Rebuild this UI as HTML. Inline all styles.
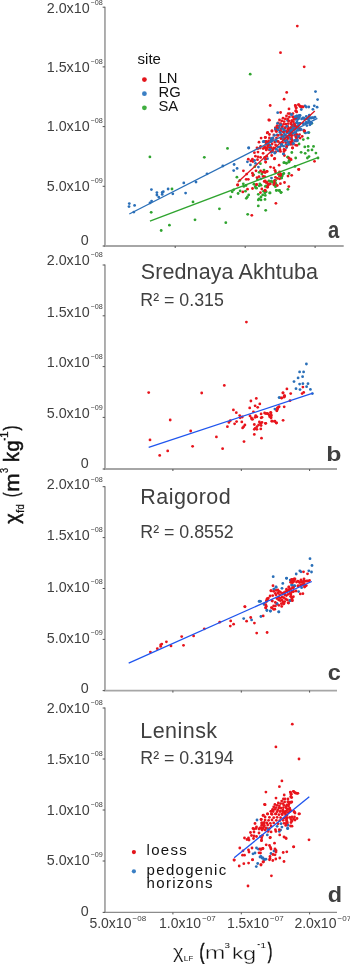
<!DOCTYPE html>
<html><head><meta charset="utf-8"><style>
html,body{margin:0;padding:0;background:#fff;width:350px;height:964px;overflow:hidden}
svg{display:block;font-family:"Liberation Sans",sans-serif;will-change:transform}
</style></head><body>
<svg width="350" height="964" viewBox="0 0 350 964">
<line x1="104.95" y1="6.7" x2="104.95" y2="246.0" stroke="#a6a6a6" stroke-width="1.8"/>
<line x1="103.75" y1="246.0" x2="343.7" y2="246.0" stroke="#a6a6a6" stroke-width="1.8"/>
<line x1="102.65" y1="7.2" x2="104.95" y2="7.2" stroke="#555" stroke-width="1"/>
<line x1="102.65" y1="66.9" x2="104.95" y2="66.9" stroke="#555" stroke-width="1"/>
<line x1="102.65" y1="126.6" x2="104.95" y2="126.6" stroke="#555" stroke-width="1"/>
<line x1="102.65" y1="186.3" x2="104.95" y2="186.3" stroke="#555" stroke-width="1"/>
<line x1="102.65" y1="246.0" x2="104.95" y2="246.0" stroke="#555" stroke-width="1"/>
<line x1="175.2" y1="246.0" x2="175.2" y2="248.0" stroke="#555" stroke-width="1"/>
<line x1="245.2" y1="246.0" x2="245.2" y2="248.0" stroke="#555" stroke-width="1"/>
<line x1="315.1" y1="246.0" x2="315.1" y2="248.0" stroke="#555" stroke-width="1"/>
<text x="89.7" y="12.7" text-anchor="end" font-size="14.3" fill="#404040">2.0x10</text>
<text x="90.5" y="4.8" font-size="7.2" fill="#404040">−08</text>
<text x="89.7" y="71.9" text-anchor="end" font-size="14.3" fill="#404040">1.5x10</text>
<text x="90.5" y="64.0" font-size="7.2" fill="#404040">−08</text>
<text x="89.7" y="130.9" text-anchor="end" font-size="14.3" fill="#404040">1.0x10</text>
<text x="90.5" y="123.0" font-size="7.2" fill="#404040">−08</text>
<text x="89.7" y="190.9" text-anchor="end" font-size="14.3" fill="#404040">5.0x10</text>
<text x="90.5" y="183.0" font-size="7.2" fill="#404040">−09</text>
<text x="88.7" y="244.9" text-anchor="end" font-size="14.3" fill="#404040">0</text>
<line x1="104.95" y1="264.5" x2="104.95" y2="469.0" stroke="#a6a6a6" stroke-width="1.8"/>
<line x1="103.75" y1="469.0" x2="337.0" y2="469.0" stroke="#a6a6a6" stroke-width="1.8"/>
<line x1="102.65" y1="265.0" x2="104.95" y2="265.0" stroke="#555" stroke-width="1"/>
<line x1="102.65" y1="315.8" x2="104.95" y2="315.8" stroke="#555" stroke-width="1"/>
<line x1="102.65" y1="366.6" x2="104.95" y2="366.6" stroke="#555" stroke-width="1"/>
<line x1="102.65" y1="417.4" x2="104.95" y2="417.4" stroke="#555" stroke-width="1"/>
<line x1="102.65" y1="469.0" x2="104.95" y2="469.0" stroke="#555" stroke-width="1"/>
<line x1="172.9" y1="469.0" x2="172.9" y2="471.0" stroke="#555" stroke-width="1"/>
<line x1="241.3" y1="469.0" x2="241.3" y2="471.0" stroke="#555" stroke-width="1"/>
<line x1="309.6" y1="469.0" x2="309.6" y2="471.0" stroke="#555" stroke-width="1"/>
<text x="89.7" y="265.3" text-anchor="end" font-size="14.3" fill="#404040">2.0x10</text>
<text x="90.5" y="257.4" font-size="7.2" fill="#404040">−08</text>
<text x="89.7" y="316.9" text-anchor="end" font-size="14.3" fill="#404040">1.5x10</text>
<text x="90.5" y="309.0" font-size="7.2" fill="#404040">−08</text>
<text x="89.7" y="367.2" text-anchor="end" font-size="14.3" fill="#404040">1.0x10</text>
<text x="90.5" y="359.3" font-size="7.2" fill="#404040">−08</text>
<text x="89.7" y="418.0" text-anchor="end" font-size="14.3" fill="#404040">5.0x10</text>
<text x="90.5" y="410.1" font-size="7.2" fill="#404040">−09</text>
<text x="88.7" y="468.3" text-anchor="end" font-size="14.3" fill="#404040">0</text>
<line x1="104.95" y1="486.2" x2="104.95" y2="690.6" stroke="#a6a6a6" stroke-width="1.8"/>
<line x1="103.75" y1="690.6" x2="337.0" y2="690.6" stroke="#a6a6a6" stroke-width="1.8"/>
<line x1="102.65" y1="486.7" x2="104.95" y2="486.7" stroke="#555" stroke-width="1"/>
<line x1="102.65" y1="537.6" x2="104.95" y2="537.6" stroke="#555" stroke-width="1"/>
<line x1="102.65" y1="588.5" x2="104.95" y2="588.5" stroke="#555" stroke-width="1"/>
<line x1="102.65" y1="639.4" x2="104.95" y2="639.4" stroke="#555" stroke-width="1"/>
<line x1="102.65" y1="690.6" x2="104.95" y2="690.6" stroke="#555" stroke-width="1"/>
<line x1="172.9" y1="690.6" x2="172.9" y2="692.6" stroke="#555" stroke-width="1"/>
<line x1="241.3" y1="690.6" x2="241.3" y2="692.6" stroke="#555" stroke-width="1"/>
<line x1="309.6" y1="690.6" x2="309.6" y2="692.6" stroke="#555" stroke-width="1"/>
<text x="89.7" y="489.4" text-anchor="end" font-size="14.3" fill="#404040">2.0x10</text>
<text x="90.5" y="481.5" font-size="7.2" fill="#404040">−08</text>
<text x="89.7" y="540.2" text-anchor="end" font-size="14.3" fill="#404040">1.5x10</text>
<text x="90.5" y="532.3" font-size="7.2" fill="#404040">−08</text>
<text x="89.7" y="591.8" text-anchor="end" font-size="14.3" fill="#404040">1.0x10</text>
<text x="90.5" y="583.9" font-size="7.2" fill="#404040">−08</text>
<text x="89.7" y="642.6" text-anchor="end" font-size="14.3" fill="#404040">5.0x10</text>
<text x="90.5" y="634.7" font-size="7.2" fill="#404040">−09</text>
<text x="88.7" y="692.9" text-anchor="end" font-size="14.3" fill="#404040">0</text>
<line x1="104.95" y1="707.5" x2="104.95" y2="912.4" stroke="#a6a6a6" stroke-width="1.8"/>
<line x1="103.75" y1="912.4" x2="337.0" y2="912.4" stroke="#8c8c8c" stroke-width="1.4"/>
<line x1="102.65" y1="708.0" x2="104.95" y2="708.0" stroke="#555" stroke-width="1"/>
<line x1="102.65" y1="759.0" x2="104.95" y2="759.0" stroke="#555" stroke-width="1"/>
<line x1="102.65" y1="810.0" x2="104.95" y2="810.0" stroke="#555" stroke-width="1"/>
<line x1="102.65" y1="861.0" x2="104.95" y2="861.0" stroke="#555" stroke-width="1"/>
<line x1="102.65" y1="912.4" x2="104.95" y2="912.4" stroke="#555" stroke-width="1"/>
<line x1="172.9" y1="912.4" x2="172.9" y2="914.4" stroke="#555" stroke-width="1"/>
<line x1="241.3" y1="912.4" x2="241.3" y2="914.4" stroke="#555" stroke-width="1"/>
<line x1="309.6" y1="912.4" x2="309.6" y2="914.4" stroke="#555" stroke-width="1"/>
<text x="89.7" y="713.3" text-anchor="end" font-size="14.3" fill="#404040">2.0x10</text>
<text x="90.5" y="705.4" font-size="7.2" fill="#404040">−08</text>
<text x="89.7" y="763.9" text-anchor="end" font-size="14.3" fill="#404040">1.5x10</text>
<text x="90.5" y="756.0" font-size="7.2" fill="#404040">−08</text>
<text x="89.7" y="814.9" text-anchor="end" font-size="14.3" fill="#404040">1.0x10</text>
<text x="90.5" y="807.0" font-size="7.2" fill="#404040">−08</text>
<text x="89.7" y="865.3" text-anchor="end" font-size="14.3" fill="#404040">5.0x10</text>
<text x="90.5" y="857.4" font-size="7.2" fill="#404040">−09</text>
<text x="88.7" y="916.1" text-anchor="end" font-size="14.3" fill="#404040">0</text>
<text x="89.4" y="928.4" font-size="14" fill="#404040">5.0x10</text>
<text x="132.60000000000002" y="920.6" font-size="8" fill="#404040">−08</text>
<text x="159.0" y="928.4" font-size="14" fill="#404040">1.0x10</text>
<text x="202.2" y="920.6" font-size="8" fill="#404040">−07</text>
<text x="226.9" y="928.4" font-size="14" fill="#404040">1.5x10</text>
<text x="270.1" y="920.6" font-size="8" fill="#404040">−07</text>
<text x="294.4" y="928.4" font-size="14" fill="#404040">2.0x10</text>
<text x="337.59999999999997" y="920.6" font-size="8" fill="#404040">−07</text>
<text x="140.8" y="278.6" font-size="21.5" letter-spacing="0.1" fill="#404040">Srednaya Akhtuba</text><text x="140.3" y="306.1" font-size="17.8" fill="#404040">R² = 0.315</text>
<text x="140.3" y="503.5" font-size="21.5" letter-spacing="0.45" fill="#404040">Raigorod</text><text x="140.3" y="537.6" font-size="17.8" fill="#404040">R² = 0.8552</text>
<text x="140.3" y="738.0" font-size="21.5" letter-spacing="0.45" fill="#404040">Leninsk</text><text x="140.3" y="763.6" font-size="17.8" fill="#404040">R² = 0.3194</text>
<text x="137.6" y="64.2" font-size="15" fill="#111">site</text>
<circle cx="144.4" cy="79.6" r="2.4" fill="#e3141b"/>
<text x="158.5" y="83.1" font-size="14.8" fill="#111">LN</text>
<circle cx="144.4" cy="93.7" r="2.4" fill="#3a7fc4"/>
<text x="158.5" y="97.2" font-size="14.8" fill="#111">RG</text>
<circle cx="144.4" cy="107.8" r="2.4" fill="#3fae3f"/>
<text x="158.5" y="111.3" font-size="14.8" fill="#111">SA</text>
<circle cx="133.9" cy="852.1" r="2.1" fill="#e3141b"/>
<circle cx="133.9" cy="871.3" r="2.1" fill="#3a7fc4"/>
<text x="146.6" y="854.6" font-size="15" letter-spacing="1.3" fill="#111">loess</text>
<text x="146.6" y="875.1" font-size="15" letter-spacing="1.3" fill="#111">pedogenic</text>
<text x="146.6" y="887.5" font-size="15" letter-spacing="1.3" fill="#111">horizons</text>
<text transform="translate(172.90,958.00) scale(0.2000,0.1907)" font-size="100" fill="#111" stroke="#fff" stroke-width="1.2">χ</text>
<text transform="translate(183.63,961.40) scale(0.0841,0.0696)" font-size="100" fill="#111">L</text>
<text transform="translate(188.48,961.40) scale(0.0776,0.0696)" font-size="100" fill="#111">F</text>
<text transform="translate(199.40,958.61) scale(0.1500,0.2138)" font-size="100" fill="#111" stroke="#111" stroke-width="3">(</text>
<text transform="translate(204.86,959.20) scale(0.2486,0.1796)" font-size="100" fill="#111" stroke="#fff" stroke-width="2.0">m</text>
<text transform="translate(224.61,947.84) scale(0.0979,0.0648)" font-size="100" fill="#111">3</text>
<text transform="translate(232.02,959.30) scale(0.2256,0.1712)" font-size="100" fill="#111" stroke="#fff" stroke-width="1.8">k</text>
<text transform="translate(242.95,959.93) scale(0.2378,0.1892)" font-size="100" fill="#111" stroke="#fff" stroke-width="1.8">g</text>
<text transform="translate(257.36,948.27) scale(0.0840,0.1250)" font-size="100" fill="#111">-</text>
<text transform="translate(260.62,947.60) scale(0.0977,0.0768)" font-size="100" fill="#111">1</text>
<text transform="translate(267.77,958.13) scale(0.1346,0.2128)" font-size="100" fill="#111" stroke="#111" stroke-width="3">)</text>
<g transform="translate(0,523.6) rotate(-90)"><text transform="translate(-0.20,18.68) scale(0.1980,0.2107)" font-size="100" fill="#111" stroke="#111" stroke-width="2.5">χ</text><text transform="translate(10.58,23.51) scale(0.1185,0.1111)" font-size="100" fill="#111" stroke="#111" stroke-width="2.5">f</text><text transform="translate(14.13,23.59) scale(0.0933,0.1081)" font-size="100" fill="#111" stroke="#111" stroke-width="2.5">d</text><text transform="translate(26.72,18.39) scale(0.1308,0.2053)" font-size="100" fill="#111" stroke="#111" stroke-width="2.5">(</text><text transform="translate(31.96,18.90) scale(0.2200,0.2000)" font-size="100" fill="#111" stroke="#111" stroke-width="2.5">m</text><text transform="translate(50.53,7.60) scale(0.0915,0.1000)" font-size="100" fill="#111" stroke="#111" stroke-width="2.5">3</text><text transform="translate(61.50,18.90) scale(0.2000,0.2123)" font-size="100" fill="#111" stroke="#111" stroke-width="2.5">k</text><text transform="translate(72.01,18.84) scale(0.1978,0.2027)" font-size="100" fill="#111" stroke="#111" stroke-width="2.5">g</text><text transform="translate(83.18,8.65) scale(0.0800,0.1500)" font-size="100" fill="#111" stroke="#111" stroke-width="2.5">-</text><text transform="translate(85.55,8.10) scale(0.1186,0.1087)" font-size="100" fill="#111" stroke="#111" stroke-width="2.5">1</text><text transform="translate(93.15,18.39) scale(0.1500,0.2053)" font-size="100" fill="#111" stroke="#111" stroke-width="2.5">)</text></g>
<text transform="translate(327.99,238.37) scale(0.2019,0.2309)" font-size="100" font-weight="bold" fill="#404040">a</text>
<text transform="translate(326.16,461.20) scale(0.2480,0.2055)" font-size="100" font-weight="bold" fill="#404040">b</text>
<text transform="translate(327.86,680.48) scale(0.2347,0.2182)" font-size="100" font-weight="bold" fill="#404040">c</text>
<text transform="translate(327.86,902.20) scale(0.2340,0.2137)" font-size="100" font-weight="bold" fill="#404040">d</text>
<circle cx="306.4" cy="364.0" r="1.4" fill="#2a6fb8"/>
<circle cx="299.6" cy="371.9" r="1.4" fill="#2a6fb8"/>
<circle cx="303.6" cy="371.9" r="1.4" fill="#2a6fb8"/>
<circle cx="298.1" cy="377.9" r="1.4" fill="#2a6fb8"/>
<circle cx="302.6" cy="376.7" r="1.4" fill="#2a6fb8"/>
<circle cx="294.0" cy="381.6" r="1.4" fill="#2a6fb8"/>
<circle cx="299.6" cy="384.1" r="1.4" fill="#2a6fb8"/>
<circle cx="302.9" cy="383.7" r="1.4" fill="#2a6fb8"/>
<circle cx="308.0" cy="383.7" r="1.4" fill="#2a6fb8"/>
<circle cx="306.6" cy="386.7" r="1.4" fill="#2a6fb8"/>
<circle cx="296.0" cy="388.7" r="1.4" fill="#2a6fb8"/>
<circle cx="300.0" cy="389.6" r="1.4" fill="#2a6fb8"/>
<circle cx="310.4" cy="389.4" r="1.4" fill="#2a6fb8"/>
<circle cx="312.4" cy="393.6" r="1.4" fill="#2a6fb8"/>
<circle cx="279.7" cy="397.6" r="1.4" fill="#2a6fb8"/>
<circle cx="274.9" cy="409.1" r="1.4" fill="#2a6fb8"/>
<circle cx="279.1" cy="397.6" r="1.4" fill="#2a6fb8"/>
<circle cx="148.7" cy="392.6" r="1.4" fill="#e8141c"/>
<circle cx="201.7" cy="393.0" r="1.4" fill="#e8141c"/>
<circle cx="170.2" cy="420.0" r="1.4" fill="#e8141c"/>
<circle cx="190.7" cy="431.0" r="1.4" fill="#e8141c"/>
<circle cx="150.0" cy="439.9" r="1.4" fill="#e8141c"/>
<circle cx="216.4" cy="436.9" r="1.4" fill="#e8141c"/>
<circle cx="192.6" cy="446.3" r="1.4" fill="#e8141c"/>
<circle cx="167.7" cy="450.9" r="1.4" fill="#e8141c"/>
<circle cx="159.7" cy="455.4" r="1.4" fill="#e8141c"/>
<circle cx="246.4" cy="322.1" r="1.4" fill="#e8141c"/>
<circle cx="224.3" cy="385.4" r="1.4" fill="#e8141c"/>
<circle cx="302.9" cy="387.1" r="1.4" fill="#e8141c"/>
<circle cx="286.9" cy="388.9" r="1.4" fill="#e8141c"/>
<circle cx="282.9" cy="392.9" r="1.4" fill="#e8141c"/>
<circle cx="290.7" cy="393.6" r="1.4" fill="#e8141c"/>
<circle cx="302.1" cy="393.6" r="1.4" fill="#e8141c"/>
<circle cx="303.7" cy="392.4" r="1.4" fill="#e8141c"/>
<circle cx="284.3" cy="395.7" r="1.4" fill="#e8141c"/>
<circle cx="284.3" cy="396.9" r="1.4" fill="#e8141c"/>
<circle cx="281.7" cy="398.1" r="1.4" fill="#e8141c"/>
<circle cx="290.0" cy="400.7" r="1.4" fill="#e8141c"/>
<circle cx="256.3" cy="398.4" r="1.4" fill="#e8141c"/>
<circle cx="250.9" cy="401.0" r="1.4" fill="#e8141c"/>
<circle cx="259.8" cy="403.9" r="1.4" fill="#e8141c"/>
<circle cx="255.1" cy="405.8" r="1.4" fill="#e8141c"/>
<circle cx="257.7" cy="407.3" r="1.4" fill="#e8141c"/>
<circle cx="249.7" cy="407.9" r="1.4" fill="#e8141c"/>
<circle cx="233.4" cy="409.9" r="1.4" fill="#e8141c"/>
<circle cx="253.4" cy="411.8" r="1.4" fill="#e8141c"/>
<circle cx="236.3" cy="412.7" r="1.4" fill="#e8141c"/>
<circle cx="277.4" cy="407.9" r="1.4" fill="#e8141c"/>
<circle cx="279.1" cy="406.7" r="1.4" fill="#e8141c"/>
<circle cx="276.9" cy="410.4" r="1.4" fill="#e8141c"/>
<circle cx="239.7" cy="415.6" r="1.4" fill="#e8141c"/>
<circle cx="242.3" cy="417.0" r="1.4" fill="#e8141c"/>
<circle cx="240.2" cy="417.8" r="1.4" fill="#e8141c"/>
<circle cx="250.0" cy="415.9" r="1.4" fill="#e8141c"/>
<circle cx="251.4" cy="417.8" r="1.4" fill="#e8141c"/>
<circle cx="255.7" cy="415.6" r="1.4" fill="#e8141c"/>
<circle cx="256.9" cy="416.8" r="1.4" fill="#e8141c"/>
<circle cx="255.1" cy="417.3" r="1.4" fill="#e8141c"/>
<circle cx="261.1" cy="413.9" r="1.4" fill="#e8141c"/>
<circle cx="264.6" cy="413.0" r="1.4" fill="#e8141c"/>
<circle cx="267.1" cy="413.5" r="1.4" fill="#e8141c"/>
<circle cx="270.6" cy="412.5" r="1.4" fill="#e8141c"/>
<circle cx="269.4" cy="415.2" r="1.4" fill="#e8141c"/>
<circle cx="271.1" cy="417.0" r="1.4" fill="#e8141c"/>
<circle cx="262.0" cy="417.3" r="1.4" fill="#e8141c"/>
<circle cx="261.1" cy="417.8" r="1.4" fill="#e8141c"/>
<circle cx="252.6" cy="419.3" r="1.4" fill="#e8141c"/>
<circle cx="251.7" cy="419.0" r="1.4" fill="#e8141c"/>
<circle cx="230.3" cy="420.7" r="1.4" fill="#e8141c"/>
<circle cx="228.9" cy="422.4" r="1.4" fill="#e8141c"/>
<circle cx="236.6" cy="421.6" r="1.4" fill="#e8141c"/>
<circle cx="241.8" cy="421.9" r="1.4" fill="#e8141c"/>
<circle cx="234.6" cy="423.8" r="1.4" fill="#e8141c"/>
<circle cx="227.4" cy="426.7" r="1.4" fill="#e8141c"/>
<circle cx="259.4" cy="421.9" r="1.4" fill="#e8141c"/>
<circle cx="260.6" cy="423.3" r="1.4" fill="#e8141c"/>
<circle cx="262.0" cy="422.4" r="1.4" fill="#e8141c"/>
<circle cx="265.4" cy="423.3" r="1.4" fill="#e8141c"/>
<circle cx="271.8" cy="421.2" r="1.4" fill="#e8141c"/>
<circle cx="274.9" cy="421.1" r="1.4" fill="#e8141c"/>
<circle cx="276.6" cy="422.8" r="1.4" fill="#e8141c"/>
<circle cx="254.3" cy="424.5" r="1.4" fill="#e8141c"/>
<circle cx="258.6" cy="425.0" r="1.4" fill="#e8141c"/>
<circle cx="261.1" cy="425.5" r="1.4" fill="#e8141c"/>
<circle cx="244.9" cy="425.0" r="1.4" fill="#e8141c"/>
<circle cx="243.7" cy="426.7" r="1.4" fill="#e8141c"/>
<circle cx="242.6" cy="427.9" r="1.4" fill="#e8141c"/>
<circle cx="256.9" cy="426.7" r="1.4" fill="#e8141c"/>
<circle cx="255.1" cy="428.4" r="1.4" fill="#e8141c"/>
<circle cx="254.3" cy="429.3" r="1.4" fill="#e8141c"/>
<circle cx="256.9" cy="429.3" r="1.4" fill="#e8141c"/>
<circle cx="260.8" cy="428.9" r="1.4" fill="#e8141c"/>
<circle cx="254.3" cy="434.4" r="1.4" fill="#e8141c"/>
<circle cx="261.5" cy="438.2" r="1.4" fill="#e8141c"/>
<circle cx="244.0" cy="441.6" r="1.4" fill="#e8141c"/>
<circle cx="222.6" cy="448.7" r="1.4" fill="#e8141c"/>
<circle cx="283.1" cy="392.8" r="1.4" fill="#e8141c"/>
<circle cx="284.7" cy="396.0" r="1.4" fill="#e8141c"/>
<circle cx="283.9" cy="397.1" r="1.4" fill="#e8141c"/>
<circle cx="281.5" cy="397.9" r="1.4" fill="#e8141c"/>
<circle cx="284.2" cy="406.8" r="1.4" fill="#e8141c"/>
<circle cx="278.4" cy="407.3" r="1.4" fill="#e8141c"/>
<circle cx="277.6" cy="408.9" r="1.4" fill="#e8141c"/>
<circle cx="276.8" cy="410.8" r="1.4" fill="#e8141c"/>
<circle cx="265.8" cy="413.6" r="1.4" fill="#e8141c"/>
<circle cx="268.1" cy="413.9" r="1.4" fill="#e8141c"/>
<circle cx="271.0" cy="412.8" r="1.4" fill="#e8141c"/>
<circle cx="271.3" cy="415.2" r="1.4" fill="#e8141c"/>
<circle cx="269.7" cy="416.7" r="1.4" fill="#e8141c"/>
<circle cx="271.0" cy="418.0" r="1.4" fill="#e8141c"/>
<circle cx="272.1" cy="421.1" r="1.4" fill="#e8141c"/>
<circle cx="274.4" cy="421.4" r="1.4" fill="#e8141c"/>
<circle cx="276.3" cy="423.0" r="1.4" fill="#e8141c"/>
<circle cx="283.1" cy="420.3" r="1.4" fill="#e8141c"/>
<circle cx="265.8" cy="423.3" r="1.4" fill="#e8141c"/>
<circle cx="243.7" cy="618.6" r="1.4" fill="#2a6fb8"/>
<circle cx="251.6" cy="619.9" r="1.4" fill="#2a6fb8"/>
<circle cx="259.1" cy="601.4" r="1.4" fill="#2a6fb8"/>
<circle cx="273.2" cy="576.7" r="1.4" fill="#2a6fb8"/>
<circle cx="276.1" cy="587.0" r="1.4" fill="#2a6fb8"/>
<circle cx="274.2" cy="589.3" r="1.4" fill="#2a6fb8"/>
<circle cx="259.7" cy="601.2" r="1.4" fill="#2a6fb8"/>
<circle cx="264.3" cy="604.4" r="1.4" fill="#2a6fb8"/>
<circle cx="266.9" cy="610.5" r="1.4" fill="#2a6fb8"/>
<circle cx="270.3" cy="611.1" r="1.4" fill="#2a6fb8"/>
<circle cx="278.7" cy="611.8" r="1.4" fill="#2a6fb8"/>
<circle cx="276.8" cy="603.7" r="1.4" fill="#2a6fb8"/>
<circle cx="286.6" cy="578.3" r="1.4" fill="#2a6fb8"/>
<circle cx="282.8" cy="583.4" r="1.4" fill="#2a6fb8"/>
<circle cx="276.0" cy="587.2" r="1.4" fill="#2a6fb8"/>
<circle cx="273.8" cy="589.1" r="1.4" fill="#2a6fb8"/>
<circle cx="282.0" cy="588.3" r="1.4" fill="#2a6fb8"/>
<circle cx="290.3" cy="580.1" r="1.4" fill="#2a6fb8"/>
<circle cx="292.0" cy="585.1" r="1.4" fill="#2a6fb8"/>
<circle cx="294.1" cy="586.0" r="1.4" fill="#2a6fb8"/>
<circle cx="289.9" cy="600.5" r="1.4" fill="#2a6fb8"/>
<circle cx="277.0" cy="603.7" r="1.4" fill="#2a6fb8"/>
<circle cx="310.0" cy="558.7" r="1.4" fill="#2a6fb8"/>
<circle cx="312.0" cy="565.5" r="1.4" fill="#2a6fb8"/>
<circle cx="299.8" cy="570.8" r="1.4" fill="#2a6fb8"/>
<circle cx="301.0" cy="571.8" r="1.4" fill="#2a6fb8"/>
<circle cx="308.8" cy="570.8" r="1.4" fill="#2a6fb8"/>
<circle cx="311.5" cy="572.0" r="1.4" fill="#2a6fb8"/>
<circle cx="296.2" cy="574.0" r="1.4" fill="#2a6fb8"/>
<circle cx="286.5" cy="578.2" r="1.4" fill="#2a6fb8"/>
<circle cx="290.5" cy="580.2" r="1.4" fill="#2a6fb8"/>
<circle cx="292.0" cy="585.0" r="1.4" fill="#2a6fb8"/>
<circle cx="294.8" cy="585.8" r="1.4" fill="#2a6fb8"/>
<circle cx="303.5" cy="581.5" r="1.4" fill="#2a6fb8"/>
<circle cx="260.9" cy="616.5" r="1.4" fill="#2a6fb8"/>
<circle cx="278.9" cy="611.9" r="1.4" fill="#2a6fb8"/>
<circle cx="270.5" cy="611.0" r="1.4" fill="#2a6fb8"/>
<circle cx="266.9" cy="610.1" r="1.4" fill="#2a6fb8"/>
<circle cx="290.0" cy="600.5" r="1.4" fill="#2a6fb8"/>
<circle cx="260.6" cy="601.3" r="1.4" fill="#2a6fb8"/>
<circle cx="264.0" cy="604.1" r="1.4" fill="#2a6fb8"/>
<circle cx="277.1" cy="604.1" r="1.4" fill="#2a6fb8"/>
<circle cx="291.7" cy="585.1" r="1.4" fill="#2a6fb8"/>
<circle cx="294.7" cy="585.8" r="1.4" fill="#2a6fb8"/>
<circle cx="301.6" cy="587.7" r="1.4" fill="#2a6fb8"/>
<circle cx="298.6" cy="591.6" r="1.4" fill="#2a6fb8"/>
<circle cx="290.4" cy="600.6" r="1.4" fill="#2a6fb8"/>
<circle cx="302.4" cy="582.1" r="1.4" fill="#2a6fb8"/>
<circle cx="150.4" cy="652.1" r="1.4" fill="#e8141c"/>
<circle cx="157.3" cy="648.7" r="1.4" fill="#e8141c"/>
<circle cx="160.7" cy="646.4" r="1.4" fill="#e8141c"/>
<circle cx="161.8" cy="644.1" r="1.4" fill="#e8141c"/>
<circle cx="160.7" cy="644.8" r="1.4" fill="#e8141c"/>
<circle cx="166.4" cy="641.8" r="1.4" fill="#e8141c"/>
<circle cx="171.0" cy="645.9" r="1.4" fill="#e8141c"/>
<circle cx="181.7" cy="636.6" r="1.4" fill="#e8141c"/>
<circle cx="183.5" cy="645.3" r="1.4" fill="#e8141c"/>
<circle cx="193.6" cy="635.9" r="1.4" fill="#e8141c"/>
<circle cx="204.3" cy="628.8" r="1.4" fill="#e8141c"/>
<circle cx="219.7" cy="622.2" r="1.4" fill="#e8141c"/>
<circle cx="230.7" cy="620.9" r="1.4" fill="#e8141c"/>
<circle cx="230.3" cy="626.1" r="1.4" fill="#e8141c"/>
<circle cx="233.6" cy="624.2" r="1.4" fill="#e8141c"/>
<circle cx="244.8" cy="606.6" r="1.4" fill="#e8141c"/>
<circle cx="246.6" cy="621.2" r="1.4" fill="#e8141c"/>
<circle cx="250.7" cy="617.5" r="1.4" fill="#e8141c"/>
<circle cx="254.4" cy="623.1" r="1.4" fill="#e8141c"/>
<circle cx="256.7" cy="633.1" r="1.4" fill="#e8141c"/>
<circle cx="273.0" cy="585.7" r="1.4" fill="#e8141c"/>
<circle cx="271.0" cy="590.6" r="1.4" fill="#e8141c"/>
<circle cx="245.0" cy="606.8" r="1.4" fill="#e8141c"/>
<circle cx="267.1" cy="598.9" r="1.4" fill="#e8141c"/>
<circle cx="266.5" cy="601.5" r="1.4" fill="#e8141c"/>
<circle cx="265.8" cy="604.7" r="1.4" fill="#e8141c"/>
<circle cx="265.8" cy="607.9" r="1.4" fill="#e8141c"/>
<circle cx="272.0" cy="607.9" r="1.4" fill="#e8141c"/>
<circle cx="273.6" cy="606.0" r="1.4" fill="#e8141c"/>
<circle cx="274.8" cy="609.2" r="1.4" fill="#e8141c"/>
<circle cx="291.6" cy="579.7" r="1.4" fill="#e8141c"/>
<circle cx="293.3" cy="581.0" r="1.4" fill="#e8141c"/>
<circle cx="290.7" cy="582.3" r="1.4" fill="#e8141c"/>
<circle cx="292.4" cy="582.7" r="1.4" fill="#e8141c"/>
<circle cx="294.1" cy="578.9" r="1.4" fill="#e8141c"/>
<circle cx="288.8" cy="586.8" r="1.4" fill="#e8141c"/>
<circle cx="292.4" cy="587.9" r="1.4" fill="#e8141c"/>
<circle cx="271.0" cy="590.9" r="1.4" fill="#e8141c"/>
<circle cx="273.6" cy="591.3" r="1.4" fill="#e8141c"/>
<circle cx="276.1" cy="590.4" r="1.4" fill="#e8141c"/>
<circle cx="277.9" cy="590.0" r="1.4" fill="#e8141c"/>
<circle cx="279.1" cy="591.3" r="1.4" fill="#e8141c"/>
<circle cx="280.4" cy="592.1" r="1.4" fill="#e8141c"/>
<circle cx="277.9" cy="593.0" r="1.4" fill="#e8141c"/>
<circle cx="275.3" cy="593.4" r="1.4" fill="#e8141c"/>
<circle cx="272.7" cy="595.6" r="1.4" fill="#e8141c"/>
<circle cx="270.1" cy="596.0" r="1.4" fill="#e8141c"/>
<circle cx="276.1" cy="595.1" r="1.4" fill="#e8141c"/>
<circle cx="279.6" cy="594.7" r="1.4" fill="#e8141c"/>
<circle cx="282.1" cy="593.4" r="1.4" fill="#e8141c"/>
<circle cx="283.9" cy="592.6" r="1.4" fill="#e8141c"/>
<circle cx="285.6" cy="591.7" r="1.4" fill="#e8141c"/>
<circle cx="287.3" cy="590.9" r="1.4" fill="#e8141c"/>
<circle cx="289.0" cy="590.0" r="1.4" fill="#e8141c"/>
<circle cx="290.7" cy="589.1" r="1.4" fill="#e8141c"/>
<circle cx="284.7" cy="594.7" r="1.4" fill="#e8141c"/>
<circle cx="286.4" cy="595.6" r="1.4" fill="#e8141c"/>
<circle cx="288.1" cy="594.3" r="1.4" fill="#e8141c"/>
<circle cx="289.9" cy="593.4" r="1.4" fill="#e8141c"/>
<circle cx="291.6" cy="592.1" r="1.4" fill="#e8141c"/>
<circle cx="293.3" cy="591.3" r="1.4" fill="#e8141c"/>
<circle cx="278.7" cy="597.3" r="1.4" fill="#e8141c"/>
<circle cx="280.4" cy="598.1" r="1.4" fill="#e8141c"/>
<circle cx="282.1" cy="596.9" r="1.4" fill="#e8141c"/>
<circle cx="283.9" cy="597.7" r="1.4" fill="#e8141c"/>
<circle cx="285.6" cy="599.0" r="1.4" fill="#e8141c"/>
<circle cx="287.3" cy="599.9" r="1.4" fill="#e8141c"/>
<circle cx="282.1" cy="599.9" r="1.4" fill="#e8141c"/>
<circle cx="280.4" cy="600.7" r="1.4" fill="#e8141c"/>
<circle cx="283.0" cy="602.0" r="1.4" fill="#e8141c"/>
<circle cx="284.7" cy="601.6" r="1.4" fill="#e8141c"/>
<circle cx="278.7" cy="599.9" r="1.4" fill="#e8141c"/>
<circle cx="277.0" cy="598.6" r="1.4" fill="#e8141c"/>
<circle cx="290.7" cy="596.4" r="1.4" fill="#e8141c"/>
<circle cx="292.4" cy="597.3" r="1.4" fill="#e8141c"/>
<circle cx="288.1" cy="602.8" r="1.4" fill="#e8141c"/>
<circle cx="268.4" cy="598.1" r="1.4" fill="#e8141c"/>
<circle cx="267.1" cy="599.0" r="1.4" fill="#e8141c"/>
<circle cx="266.7" cy="600.3" r="1.4" fill="#e8141c"/>
<circle cx="272.3" cy="601.1" r="1.4" fill="#e8141c"/>
<circle cx="275.3" cy="602.4" r="1.4" fill="#e8141c"/>
<circle cx="281.3" cy="603.7" r="1.4" fill="#e8141c"/>
<circle cx="283.4" cy="604.1" r="1.4" fill="#e8141c"/>
<circle cx="292.4" cy="600.7" r="1.4" fill="#e8141c"/>
<circle cx="303.5" cy="571.8" r="1.4" fill="#e8141c"/>
<circle cx="307.5" cy="573.8" r="1.4" fill="#e8141c"/>
<circle cx="292.0" cy="579.5" r="1.4" fill="#e8141c"/>
<circle cx="295.0" cy="579.0" r="1.4" fill="#e8141c"/>
<circle cx="297.8" cy="581.2" r="1.4" fill="#e8141c"/>
<circle cx="301.0" cy="579.8" r="1.4" fill="#e8141c"/>
<circle cx="304.0" cy="578.8" r="1.4" fill="#e8141c"/>
<circle cx="304.0" cy="580.5" r="1.4" fill="#e8141c"/>
<circle cx="302.0" cy="582.0" r="1.4" fill="#e8141c"/>
<circle cx="299.5" cy="582.5" r="1.4" fill="#e8141c"/>
<circle cx="296.5" cy="582.0" r="1.4" fill="#e8141c"/>
<circle cx="293.5" cy="581.8" r="1.4" fill="#e8141c"/>
<circle cx="291.0" cy="582.0" r="1.4" fill="#e8141c"/>
<circle cx="306.0" cy="581.2" r="1.4" fill="#e8141c"/>
<circle cx="308.0" cy="581.2" r="1.4" fill="#e8141c"/>
<circle cx="309.5" cy="580.5" r="1.4" fill="#e8141c"/>
<circle cx="305.0" cy="585.0" r="1.4" fill="#e8141c"/>
<circle cx="303.0" cy="585.0" r="1.4" fill="#e8141c"/>
<circle cx="300.5" cy="585.5" r="1.4" fill="#e8141c"/>
<circle cx="298.0" cy="586.0" r="1.4" fill="#e8141c"/>
<circle cx="304.5" cy="587.0" r="1.4" fill="#e8141c"/>
<circle cx="289.0" cy="587.2" r="1.4" fill="#e8141c"/>
<circle cx="293.0" cy="587.8" r="1.4" fill="#e8141c"/>
<circle cx="286.5" cy="589.2" r="1.4" fill="#e8141c"/>
<circle cx="289.5" cy="589.5" r="1.4" fill="#e8141c"/>
<circle cx="267.1" cy="632.5" r="1.4" fill="#e8141c"/>
<circle cx="263.2" cy="615.9" r="1.4" fill="#e8141c"/>
<circle cx="265.7" cy="607.6" r="1.4" fill="#e8141c"/>
<circle cx="266.3" cy="606.2" r="1.4" fill="#e8141c"/>
<circle cx="271.4" cy="607.6" r="1.4" fill="#e8141c"/>
<circle cx="273.7" cy="609.3" r="1.4" fill="#e8141c"/>
<circle cx="275.4" cy="605.9" r="1.4" fill="#e8141c"/>
<circle cx="278.9" cy="605.3" r="1.4" fill="#e8141c"/>
<circle cx="281.7" cy="606.4" r="1.4" fill="#e8141c"/>
<circle cx="284.0" cy="603.6" r="1.4" fill="#e8141c"/>
<circle cx="288.6" cy="603.0" r="1.4" fill="#e8141c"/>
<circle cx="267.4" cy="599.6" r="1.4" fill="#e8141c"/>
<circle cx="266.9" cy="600.7" r="1.4" fill="#e8141c"/>
<circle cx="272.0" cy="600.7" r="1.4" fill="#e8141c"/>
<circle cx="292.0" cy="600.1" r="1.4" fill="#e8141c"/>
<circle cx="292.6" cy="597.3" r="1.4" fill="#e8141c"/>
<circle cx="293.4" cy="587.7" r="1.4" fill="#e8141c"/>
<circle cx="298.1" cy="586.0" r="1.4" fill="#e8141c"/>
<circle cx="301.1" cy="584.7" r="1.4" fill="#e8141c"/>
<circle cx="303.7" cy="583.4" r="1.4" fill="#e8141c"/>
<circle cx="305.0" cy="586.4" r="1.4" fill="#e8141c"/>
<circle cx="306.3" cy="585.6" r="1.4" fill="#e8141c"/>
<circle cx="293.4" cy="591.6" r="1.4" fill="#e8141c"/>
<circle cx="296.0" cy="591.0" r="1.4" fill="#e8141c"/>
<circle cx="300.3" cy="593.9" r="1.4" fill="#e8141c"/>
<circle cx="302.9" cy="593.7" r="1.4" fill="#e8141c"/>
<circle cx="290.9" cy="594.1" r="1.4" fill="#e8141c"/>
<circle cx="290.9" cy="596.3" r="1.4" fill="#e8141c"/>
<circle cx="293.4" cy="596.7" r="1.4" fill="#e8141c"/>
<circle cx="291.7" cy="598.0" r="1.4" fill="#e8141c"/>
<circle cx="292.1" cy="600.1" r="1.4" fill="#e8141c"/>
<circle cx="301.1" cy="581.7" r="1.4" fill="#e8141c"/>
<circle cx="304.6" cy="581.3" r="1.4" fill="#e8141c"/>
<circle cx="307.1" cy="580.9" r="1.4" fill="#e8141c"/>
<circle cx="298.6" cy="581.3" r="1.4" fill="#e8141c"/>
<circle cx="294.3" cy="580.4" r="1.4" fill="#e8141c"/>
<circle cx="288.0" cy="825.2" r="1.4" fill="#2a6fb8"/>
<circle cx="287.5" cy="828.5" r="1.4" fill="#2a6fb8"/>
<circle cx="257.0" cy="820.0" r="1.4" fill="#2a6fb8"/>
<circle cx="266.9" cy="828.4" r="1.4" fill="#2a6fb8"/>
<circle cx="268.6" cy="829.7" r="1.4" fill="#2a6fb8"/>
<circle cx="267.3" cy="834.9" r="1.4" fill="#2a6fb8"/>
<circle cx="277.1" cy="826.3" r="1.4" fill="#2a6fb8"/>
<circle cx="281.0" cy="823.7" r="1.4" fill="#2a6fb8"/>
<circle cx="281.9" cy="827.1" r="1.4" fill="#2a6fb8"/>
<circle cx="279.3" cy="831.4" r="1.4" fill="#2a6fb8"/>
<circle cx="280.6" cy="830.1" r="1.4" fill="#2a6fb8"/>
<circle cx="287.4" cy="825.0" r="1.4" fill="#2a6fb8"/>
<circle cx="287.8" cy="828.4" r="1.4" fill="#2a6fb8"/>
<circle cx="256.5" cy="848.0" r="1.4" fill="#2a6fb8"/>
<circle cx="258.5" cy="849.2" r="1.4" fill="#2a6fb8"/>
<circle cx="253.0" cy="853.8" r="1.4" fill="#2a6fb8"/>
<circle cx="255.0" cy="853.0" r="1.4" fill="#2a6fb8"/>
<circle cx="260.0" cy="857.0" r="1.4" fill="#2a6fb8"/>
<circle cx="262.0" cy="858.0" r="1.4" fill="#2a6fb8"/>
<circle cx="264.0" cy="859.5" r="1.4" fill="#2a6fb8"/>
<circle cx="260.5" cy="836.5" r="1.4" fill="#2a6fb8"/>
<circle cx="274.0" cy="851.0" r="1.4" fill="#2a6fb8"/>
<circle cx="271.0" cy="853.5" r="1.4" fill="#2a6fb8"/>
<circle cx="261.0" cy="856.5" r="1.4" fill="#2a6fb8"/>
<circle cx="263.0" cy="858.0" r="1.4" fill="#2a6fb8"/>
<circle cx="264.5" cy="859.5" r="1.4" fill="#2a6fb8"/>
<circle cx="266.0" cy="859.2" r="1.4" fill="#2a6fb8"/>
<circle cx="264.0" cy="860.0" r="1.4" fill="#2a6fb8"/>
<circle cx="257.7" cy="863.5" r="1.4" fill="#2a6fb8"/>
<circle cx="256.3" cy="866.6" r="1.4" fill="#2a6fb8"/>
<circle cx="275.9" cy="746.9" r="1.4" fill="#e8141c"/>
<circle cx="299.0" cy="759.0" r="1.4" fill="#e8141c"/>
<circle cx="281.9" cy="780.9" r="1.4" fill="#e8141c"/>
<circle cx="279.4" cy="786.7" r="1.4" fill="#e8141c"/>
<circle cx="265.9" cy="792.1" r="1.4" fill="#e8141c"/>
<circle cx="290.3" cy="792.1" r="1.4" fill="#e8141c"/>
<circle cx="293.7" cy="791.6" r="1.4" fill="#e8141c"/>
<circle cx="295.4" cy="793.1" r="1.4" fill="#e8141c"/>
<circle cx="297.1" cy="793.3" r="1.4" fill="#e8141c"/>
<circle cx="290.9" cy="793.9" r="1.4" fill="#e8141c"/>
<circle cx="284.2" cy="795.0" r="1.4" fill="#e8141c"/>
<circle cx="290.9" cy="796.5" r="1.4" fill="#e8141c"/>
<circle cx="276.0" cy="798.1" r="1.4" fill="#e8141c"/>
<circle cx="283.4" cy="799.0" r="1.4" fill="#e8141c"/>
<circle cx="285.1" cy="799.0" r="1.4" fill="#e8141c"/>
<circle cx="288.0" cy="799.0" r="1.4" fill="#e8141c"/>
<circle cx="281.7" cy="801.1" r="1.4" fill="#e8141c"/>
<circle cx="284.6" cy="801.9" r="1.4" fill="#e8141c"/>
<circle cx="288.0" cy="801.9" r="1.4" fill="#e8141c"/>
<circle cx="290.9" cy="802.4" r="1.4" fill="#e8141c"/>
<circle cx="278.3" cy="803.0" r="1.4" fill="#e8141c"/>
<circle cx="280.6" cy="803.6" r="1.4" fill="#e8141c"/>
<circle cx="282.9" cy="803.6" r="1.4" fill="#e8141c"/>
<circle cx="265.1" cy="804.7" r="1.4" fill="#e8141c"/>
<circle cx="274.9" cy="804.5" r="1.4" fill="#e8141c"/>
<circle cx="277.1" cy="805.3" r="1.4" fill="#e8141c"/>
<circle cx="279.4" cy="805.9" r="1.4" fill="#e8141c"/>
<circle cx="284.0" cy="805.3" r="1.4" fill="#e8141c"/>
<circle cx="286.9" cy="805.3" r="1.4" fill="#e8141c"/>
<circle cx="288.6" cy="806.1" r="1.4" fill="#e8141c"/>
<circle cx="273.7" cy="807.0" r="1.4" fill="#e8141c"/>
<circle cx="276.0" cy="807.6" r="1.4" fill="#e8141c"/>
<circle cx="278.9" cy="808.1" r="1.4" fill="#e8141c"/>
<circle cx="281.1" cy="808.1" r="1.4" fill="#e8141c"/>
<circle cx="283.4" cy="807.6" r="1.4" fill="#e8141c"/>
<circle cx="286.3" cy="808.1" r="1.4" fill="#e8141c"/>
<circle cx="289.7" cy="808.1" r="1.4" fill="#e8141c"/>
<circle cx="272.6" cy="809.3" r="1.4" fill="#e8141c"/>
<circle cx="274.9" cy="809.3" r="1.4" fill="#e8141c"/>
<circle cx="277.7" cy="809.9" r="1.4" fill="#e8141c"/>
<circle cx="282.9" cy="809.9" r="1.4" fill="#e8141c"/>
<circle cx="287.4" cy="809.3" r="1.4" fill="#e8141c"/>
<circle cx="270.9" cy="811.3" r="1.4" fill="#e8141c"/>
<circle cx="273.1" cy="811.6" r="1.4" fill="#e8141c"/>
<circle cx="280.0" cy="811.6" r="1.4" fill="#e8141c"/>
<circle cx="284.0" cy="811.6" r="1.4" fill="#e8141c"/>
<circle cx="289.7" cy="811.6" r="1.4" fill="#e8141c"/>
<circle cx="294.3" cy="812.1" r="1.4" fill="#e8141c"/>
<circle cx="267.4" cy="813.9" r="1.4" fill="#e8141c"/>
<circle cx="271.4" cy="813.9" r="1.4" fill="#e8141c"/>
<circle cx="276.0" cy="813.9" r="1.4" fill="#e8141c"/>
<circle cx="281.7" cy="813.9" r="1.4" fill="#e8141c"/>
<circle cx="284.6" cy="813.3" r="1.4" fill="#e8141c"/>
<circle cx="298.9" cy="813.9" r="1.4" fill="#e8141c"/>
<circle cx="290.4" cy="792.3" r="1.4" fill="#e8141c"/>
<circle cx="293.4" cy="791.3" r="1.4" fill="#e8141c"/>
<circle cx="294.7" cy="792.5" r="1.4" fill="#e8141c"/>
<circle cx="296.4" cy="793.1" r="1.4" fill="#e8141c"/>
<circle cx="297.9" cy="793.3" r="1.4" fill="#e8141c"/>
<circle cx="291.3" cy="794.2" r="1.4" fill="#e8141c"/>
<circle cx="290.9" cy="797.0" r="1.4" fill="#e8141c"/>
<circle cx="291.7" cy="797.6" r="1.4" fill="#e8141c"/>
<circle cx="288.0" cy="801.8" r="1.4" fill="#e8141c"/>
<circle cx="290.0" cy="802.2" r="1.4" fill="#e8141c"/>
<circle cx="291.8" cy="802.0" r="1.4" fill="#e8141c"/>
<circle cx="289.0" cy="804.0" r="1.4" fill="#e8141c"/>
<circle cx="287.0" cy="805.0" r="1.4" fill="#e8141c"/>
<circle cx="286.0" cy="807.0" r="1.4" fill="#e8141c"/>
<circle cx="288.0" cy="809.5" r="1.4" fill="#e8141c"/>
<circle cx="290.0" cy="809.5" r="1.4" fill="#e8141c"/>
<circle cx="291.0" cy="810.8" r="1.4" fill="#e8141c"/>
<circle cx="286.5" cy="811.0" r="1.4" fill="#e8141c"/>
<circle cx="285.5" cy="813.0" r="1.4" fill="#e8141c"/>
<circle cx="294.0" cy="811.5" r="1.4" fill="#e8141c"/>
<circle cx="295.0" cy="813.0" r="1.4" fill="#e8141c"/>
<circle cx="299.5" cy="813.8" r="1.4" fill="#e8141c"/>
<circle cx="287.0" cy="815.0" r="1.4" fill="#e8141c"/>
<circle cx="286.0" cy="817.5" r="1.4" fill="#e8141c"/>
<circle cx="290.0" cy="817.5" r="1.4" fill="#e8141c"/>
<circle cx="292.0" cy="817.0" r="1.4" fill="#e8141c"/>
<circle cx="294.5" cy="817.0" r="1.4" fill="#e8141c"/>
<circle cx="297.0" cy="818.5" r="1.4" fill="#e8141c"/>
<circle cx="293.5" cy="819.0" r="1.4" fill="#e8141c"/>
<circle cx="291.0" cy="819.5" r="1.4" fill="#e8141c"/>
<circle cx="286.5" cy="819.5" r="1.4" fill="#e8141c"/>
<circle cx="295.0" cy="820.0" r="1.4" fill="#e8141c"/>
<circle cx="292.0" cy="821.0" r="1.4" fill="#e8141c"/>
<circle cx="287.0" cy="821.5" r="1.4" fill="#e8141c"/>
<circle cx="291.0" cy="822.5" r="1.4" fill="#e8141c"/>
<circle cx="286.0" cy="823.5" r="1.4" fill="#e8141c"/>
<circle cx="290.5" cy="826.0" r="1.4" fill="#e8141c"/>
<circle cx="292.0" cy="826.2" r="1.4" fill="#e8141c"/>
<circle cx="264.5" cy="804.5" r="1.4" fill="#e8141c"/>
<circle cx="263.0" cy="815.5" r="1.4" fill="#e8141c"/>
<circle cx="261.0" cy="819.5" r="1.4" fill="#e8141c"/>
<circle cx="255.0" cy="823.5" r="1.4" fill="#e8141c"/>
<circle cx="262.0" cy="823.0" r="1.4" fill="#e8141c"/>
<circle cx="264.0" cy="823.5" r="1.4" fill="#e8141c"/>
<circle cx="262.0" cy="825.0" r="1.4" fill="#e8141c"/>
<circle cx="264.0" cy="826.0" r="1.4" fill="#e8141c"/>
<circle cx="256.5" cy="827.0" r="1.4" fill="#e8141c"/>
<circle cx="253.0" cy="828.5" r="1.4" fill="#e8141c"/>
<circle cx="260.0" cy="828.0" r="1.4" fill="#e8141c"/>
<circle cx="263.0" cy="828.5" r="1.4" fill="#e8141c"/>
<circle cx="271.1" cy="811.3" r="1.4" fill="#e8141c"/>
<circle cx="272.9" cy="810.4" r="1.4" fill="#e8141c"/>
<circle cx="277.1" cy="811.7" r="1.4" fill="#e8141c"/>
<circle cx="280.6" cy="810.9" r="1.4" fill="#e8141c"/>
<circle cx="283.1" cy="812.1" r="1.4" fill="#e8141c"/>
<circle cx="285.7" cy="811.3" r="1.4" fill="#e8141c"/>
<circle cx="288.3" cy="812.6" r="1.4" fill="#e8141c"/>
<circle cx="263.4" cy="815.1" r="1.4" fill="#e8141c"/>
<circle cx="267.7" cy="813.9" r="1.4" fill="#e8141c"/>
<circle cx="272.0" cy="814.3" r="1.4" fill="#e8141c"/>
<circle cx="275.4" cy="813.9" r="1.4" fill="#e8141c"/>
<circle cx="278.9" cy="814.7" r="1.4" fill="#e8141c"/>
<circle cx="282.3" cy="814.7" r="1.4" fill="#e8141c"/>
<circle cx="285.7" cy="815.1" r="1.4" fill="#e8141c"/>
<circle cx="265.1" cy="816.9" r="1.4" fill="#e8141c"/>
<circle cx="269.4" cy="817.3" r="1.4" fill="#e8141c"/>
<circle cx="273.7" cy="817.7" r="1.4" fill="#e8141c"/>
<circle cx="277.1" cy="817.3" r="1.4" fill="#e8141c"/>
<circle cx="280.6" cy="817.7" r="1.4" fill="#e8141c"/>
<circle cx="284.0" cy="818.1" r="1.4" fill="#e8141c"/>
<circle cx="287.4" cy="817.7" r="1.4" fill="#e8141c"/>
<circle cx="261.3" cy="819.4" r="1.4" fill="#e8141c"/>
<circle cx="265.1" cy="819.9" r="1.4" fill="#e8141c"/>
<circle cx="268.6" cy="820.3" r="1.4" fill="#e8141c"/>
<circle cx="272.0" cy="819.9" r="1.4" fill="#e8141c"/>
<circle cx="276.3" cy="820.3" r="1.4" fill="#e8141c"/>
<circle cx="279.7" cy="820.7" r="1.4" fill="#e8141c"/>
<circle cx="283.1" cy="820.3" r="1.4" fill="#e8141c"/>
<circle cx="286.6" cy="820.7" r="1.4" fill="#e8141c"/>
<circle cx="261.7" cy="822.9" r="1.4" fill="#e8141c"/>
<circle cx="264.3" cy="822.4" r="1.4" fill="#e8141c"/>
<circle cx="266.9" cy="822.9" r="1.4" fill="#e8141c"/>
<circle cx="270.3" cy="823.3" r="1.4" fill="#e8141c"/>
<circle cx="273.7" cy="822.9" r="1.4" fill="#e8141c"/>
<circle cx="278.0" cy="823.7" r="1.4" fill="#e8141c"/>
<circle cx="284.0" cy="823.3" r="1.4" fill="#e8141c"/>
<circle cx="287.4" cy="822.9" r="1.4" fill="#e8141c"/>
<circle cx="261.7" cy="825.4" r="1.4" fill="#e8141c"/>
<circle cx="264.3" cy="825.4" r="1.4" fill="#e8141c"/>
<circle cx="267.7" cy="825.0" r="1.4" fill="#e8141c"/>
<circle cx="271.1" cy="825.9" r="1.4" fill="#e8141c"/>
<circle cx="285.7" cy="825.4" r="1.4" fill="#e8141c"/>
<circle cx="260.9" cy="828.0" r="1.4" fill="#e8141c"/>
<circle cx="263.4" cy="827.6" r="1.4" fill="#e8141c"/>
<circle cx="266.0" cy="828.0" r="1.4" fill="#e8141c"/>
<circle cx="269.4" cy="828.4" r="1.4" fill="#e8141c"/>
<circle cx="262.1" cy="830.1" r="1.4" fill="#e8141c"/>
<circle cx="265.1" cy="830.1" r="1.4" fill="#e8141c"/>
<circle cx="275.4" cy="829.7" r="1.4" fill="#e8141c"/>
<circle cx="279.3" cy="829.7" r="1.4" fill="#e8141c"/>
<circle cx="268.1" cy="831.4" r="1.4" fill="#e8141c"/>
<circle cx="271.1" cy="831.9" r="1.4" fill="#e8141c"/>
<circle cx="275.9" cy="831.4" r="1.4" fill="#e8141c"/>
<circle cx="279.7" cy="834.9" r="1.4" fill="#e8141c"/>
<circle cx="270.3" cy="837.4" r="1.4" fill="#e8141c"/>
<circle cx="284.0" cy="837.0" r="1.4" fill="#e8141c"/>
<circle cx="285.7" cy="837.8" r="1.4" fill="#e8141c"/>
<circle cx="261.7" cy="837.8" r="1.4" fill="#e8141c"/>
<circle cx="254.0" cy="829.0" r="1.4" fill="#e8141c"/>
<circle cx="256.0" cy="828.5" r="1.4" fill="#e8141c"/>
<circle cx="259.0" cy="829.0" r="1.4" fill="#e8141c"/>
<circle cx="262.0" cy="829.5" r="1.4" fill="#e8141c"/>
<circle cx="250.5" cy="832.5" r="1.4" fill="#e8141c"/>
<circle cx="254.0" cy="832.0" r="1.4" fill="#e8141c"/>
<circle cx="259.0" cy="833.0" r="1.4" fill="#e8141c"/>
<circle cx="251.5" cy="835.5" r="1.4" fill="#e8141c"/>
<circle cx="254.0" cy="836.0" r="1.4" fill="#e8141c"/>
<circle cx="256.5" cy="836.5" r="1.4" fill="#e8141c"/>
<circle cx="262.5" cy="835.5" r="1.4" fill="#e8141c"/>
<circle cx="244.5" cy="838.0" r="1.4" fill="#e8141c"/>
<circle cx="248.5" cy="838.0" r="1.4" fill="#e8141c"/>
<circle cx="247.0" cy="839.5" r="1.4" fill="#e8141c"/>
<circle cx="249.0" cy="840.0" r="1.4" fill="#e8141c"/>
<circle cx="253.5" cy="838.5" r="1.4" fill="#e8141c"/>
<circle cx="261.5" cy="840.5" r="1.4" fill="#e8141c"/>
<circle cx="239.8" cy="848.0" r="1.4" fill="#e8141c"/>
<circle cx="252.0" cy="848.0" r="1.4" fill="#e8141c"/>
<circle cx="248.5" cy="850.0" r="1.4" fill="#e8141c"/>
<circle cx="249.0" cy="852.0" r="1.4" fill="#e8141c"/>
<circle cx="243.0" cy="850.8" r="1.4" fill="#e8141c"/>
<circle cx="260.0" cy="849.0" r="1.4" fill="#e8141c"/>
<circle cx="262.5" cy="848.5" r="1.4" fill="#e8141c"/>
<circle cx="259.0" cy="852.8" r="1.4" fill="#e8141c"/>
<circle cx="242.5" cy="855.2" r="1.4" fill="#e8141c"/>
<circle cx="244.5" cy="855.2" r="1.4" fill="#e8141c"/>
<circle cx="234.0" cy="860.0" r="1.4" fill="#e8141c"/>
<circle cx="252.5" cy="859.8" r="1.4" fill="#e8141c"/>
<circle cx="263.0" cy="862.0" r="1.4" fill="#e8141c"/>
<circle cx="270.0" cy="837.8" r="1.4" fill="#e8141c"/>
<circle cx="286.2" cy="838.5" r="1.4" fill="#e8141c"/>
<circle cx="261.5" cy="840.5" r="1.4" fill="#e8141c"/>
<circle cx="274.5" cy="843.2" r="1.4" fill="#e8141c"/>
<circle cx="266.2" cy="844.8" r="1.4" fill="#e8141c"/>
<circle cx="269.5" cy="845.5" r="1.4" fill="#e8141c"/>
<circle cx="270.5" cy="847.5" r="1.4" fill="#e8141c"/>
<circle cx="271.0" cy="849.0" r="1.4" fill="#e8141c"/>
<circle cx="263.0" cy="848.5" r="1.4" fill="#e8141c"/>
<circle cx="261.0" cy="849.5" r="1.4" fill="#e8141c"/>
<circle cx="275.0" cy="848.8" r="1.4" fill="#e8141c"/>
<circle cx="276.0" cy="850.5" r="1.4" fill="#e8141c"/>
<circle cx="276.0" cy="852.0" r="1.4" fill="#e8141c"/>
<circle cx="283.2" cy="852.5" r="1.4" fill="#e8141c"/>
<circle cx="286.8" cy="851.8" r="1.4" fill="#e8141c"/>
<circle cx="293.5" cy="846.8" r="1.4" fill="#e8141c"/>
<circle cx="273.0" cy="854.5" r="1.4" fill="#e8141c"/>
<circle cx="275.0" cy="854.8" r="1.4" fill="#e8141c"/>
<circle cx="260.5" cy="853.0" r="1.4" fill="#e8141c"/>
<circle cx="270.0" cy="856.5" r="1.4" fill="#e8141c"/>
<circle cx="270.0" cy="858.5" r="1.4" fill="#e8141c"/>
<circle cx="269.5" cy="859.8" r="1.4" fill="#e8141c"/>
<circle cx="272.8" cy="860.5" r="1.4" fill="#e8141c"/>
<circle cx="275.8" cy="859.0" r="1.4" fill="#e8141c"/>
<circle cx="279.8" cy="858.0" r="1.4" fill="#e8141c"/>
<circle cx="284.0" cy="861.5" r="1.4" fill="#e8141c"/>
<circle cx="263.5" cy="861.8" r="1.4" fill="#e8141c"/>
<circle cx="261.0" cy="865.0" r="1.4" fill="#e8141c"/>
<circle cx="234.3" cy="860.1" r="1.4" fill="#e8141c"/>
<circle cx="252.6" cy="859.7" r="1.4" fill="#e8141c"/>
<circle cx="239.2" cy="866.0" r="1.4" fill="#e8141c"/>
<circle cx="243.8" cy="863.7" r="1.4" fill="#e8141c"/>
<circle cx="248.6" cy="863.1" r="1.4" fill="#e8141c"/>
<circle cx="260.9" cy="864.6" r="1.4" fill="#e8141c"/>
<circle cx="248.0" cy="886.0" r="1.4" fill="#e8141c"/>
<circle cx="271.4" cy="875.8" r="1.4" fill="#e8141c"/>
<circle cx="309.0" cy="839.8" r="1.4" fill="#e8141c"/>
<circle cx="293.8" cy="846.8" r="1.4" fill="#e8141c"/>
<circle cx="292.3" cy="724.2" r="1.4" fill="#e8141c"/>
<circle cx="149.9" cy="156.9" r="1.4" fill="#2fa42f"/>
<circle cx="204.3" cy="157.3" r="1.4" fill="#2fa42f"/>
<circle cx="172.0" cy="189.0" r="1.4" fill="#2fa42f"/>
<circle cx="193.0" cy="201.9" r="1.4" fill="#2fa42f"/>
<circle cx="151.2" cy="212.3" r="1.4" fill="#2fa42f"/>
<circle cx="219.4" cy="208.8" r="1.4" fill="#2fa42f"/>
<circle cx="195.0" cy="219.8" r="1.4" fill="#2fa42f"/>
<circle cx="169.4" cy="225.2" r="1.4" fill="#2fa42f"/>
<circle cx="161.2" cy="230.5" r="1.4" fill="#2fa42f"/>
<circle cx="250.2" cy="74.2" r="1.4" fill="#2fa42f"/>
<circle cx="227.5" cy="148.4" r="1.4" fill="#2fa42f"/>
<circle cx="311.8" cy="123.3" r="1.4" fill="#2fa42f"/>
<circle cx="304.8" cy="132.6" r="1.4" fill="#2fa42f"/>
<circle cx="308.9" cy="132.6" r="1.4" fill="#2fa42f"/>
<circle cx="303.3" cy="139.6" r="1.4" fill="#2fa42f"/>
<circle cx="307.9" cy="138.2" r="1.4" fill="#2fa42f"/>
<circle cx="299.1" cy="144.0" r="1.4" fill="#2fa42f"/>
<circle cx="304.8" cy="146.9" r="1.4" fill="#2fa42f"/>
<circle cx="308.2" cy="146.4" r="1.4" fill="#2fa42f"/>
<circle cx="313.5" cy="146.4" r="1.4" fill="#2fa42f"/>
<circle cx="312.0" cy="149.9" r="1.4" fill="#2fa42f"/>
<circle cx="301.1" cy="152.3" r="1.4" fill="#2fa42f"/>
<circle cx="305.2" cy="153.3" r="1.4" fill="#2fa42f"/>
<circle cx="315.9" cy="153.1" r="1.4" fill="#2fa42f"/>
<circle cx="318.0" cy="158.0" r="1.4" fill="#2fa42f"/>
<circle cx="284.4" cy="162.7" r="1.4" fill="#2fa42f"/>
<circle cx="308.2" cy="150.4" r="1.4" fill="#2fa42f"/>
<circle cx="291.8" cy="152.5" r="1.4" fill="#2fa42f"/>
<circle cx="287.7" cy="157.2" r="1.4" fill="#2fa42f"/>
<circle cx="295.7" cy="158.0" r="1.4" fill="#2fa42f"/>
<circle cx="307.4" cy="158.0" r="1.4" fill="#2fa42f"/>
<circle cx="309.0" cy="156.6" r="1.4" fill="#2fa42f"/>
<circle cx="289.1" cy="160.5" r="1.4" fill="#2fa42f"/>
<circle cx="289.1" cy="161.9" r="1.4" fill="#2fa42f"/>
<circle cx="286.5" cy="163.3" r="1.4" fill="#2fa42f"/>
<circle cx="295.0" cy="166.4" r="1.4" fill="#2fa42f"/>
<circle cx="260.4" cy="163.7" r="1.4" fill="#2fa42f"/>
<circle cx="254.8" cy="166.7" r="1.4" fill="#2fa42f"/>
<circle cx="264.0" cy="170.1" r="1.4" fill="#2fa42f"/>
<circle cx="259.1" cy="172.3" r="1.4" fill="#2fa42f"/>
<circle cx="261.8" cy="174.1" r="1.4" fill="#2fa42f"/>
<circle cx="253.6" cy="174.8" r="1.4" fill="#2fa42f"/>
<circle cx="236.9" cy="177.2" r="1.4" fill="#2fa42f"/>
<circle cx="257.4" cy="179.4" r="1.4" fill="#2fa42f"/>
<circle cx="239.8" cy="180.4" r="1.4" fill="#2fa42f"/>
<circle cx="282.0" cy="174.8" r="1.4" fill="#2fa42f"/>
<circle cx="283.8" cy="173.4" r="1.4" fill="#2fa42f"/>
<circle cx="279.5" cy="176.2" r="1.4" fill="#2fa42f"/>
<circle cx="283.8" cy="162.7" r="1.4" fill="#2fa42f"/>
<circle cx="281.5" cy="177.7" r="1.4" fill="#2fa42f"/>
<circle cx="243.3" cy="183.8" r="1.4" fill="#2fa42f"/>
<circle cx="246.0" cy="185.5" r="1.4" fill="#2fa42f"/>
<circle cx="243.8" cy="186.4" r="1.4" fill="#2fa42f"/>
<circle cx="253.9" cy="184.2" r="1.4" fill="#2fa42f"/>
<circle cx="255.3" cy="186.4" r="1.4" fill="#2fa42f"/>
<circle cx="259.8" cy="183.8" r="1.4" fill="#2fa42f"/>
<circle cx="261.0" cy="185.2" r="1.4" fill="#2fa42f"/>
<circle cx="259.1" cy="185.8" r="1.4" fill="#2fa42f"/>
<circle cx="265.3" cy="181.8" r="1.4" fill="#2fa42f"/>
<circle cx="268.9" cy="180.8" r="1.4" fill="#2fa42f"/>
<circle cx="271.5" cy="181.4" r="1.4" fill="#2fa42f"/>
<circle cx="275.1" cy="180.2" r="1.4" fill="#2fa42f"/>
<circle cx="273.8" cy="183.4" r="1.4" fill="#2fa42f"/>
<circle cx="275.6" cy="185.5" r="1.4" fill="#2fa42f"/>
<circle cx="266.2" cy="185.8" r="1.4" fill="#2fa42f"/>
<circle cx="265.3" cy="186.4" r="1.4" fill="#2fa42f"/>
<circle cx="256.6" cy="188.2" r="1.4" fill="#2fa42f"/>
<circle cx="255.6" cy="187.8" r="1.4" fill="#2fa42f"/>
<circle cx="233.7" cy="189.8" r="1.4" fill="#2fa42f"/>
<circle cx="232.2" cy="191.8" r="1.4" fill="#2fa42f"/>
<circle cx="240.1" cy="190.9" r="1.4" fill="#2fa42f"/>
<circle cx="245.5" cy="191.2" r="1.4" fill="#2fa42f"/>
<circle cx="238.1" cy="193.5" r="1.4" fill="#2fa42f"/>
<circle cx="230.7" cy="196.9" r="1.4" fill="#2fa42f"/>
<circle cx="263.6" cy="191.2" r="1.4" fill="#2fa42f"/>
<circle cx="264.8" cy="192.9" r="1.4" fill="#2fa42f"/>
<circle cx="266.2" cy="191.8" r="1.4" fill="#2fa42f"/>
<circle cx="269.7" cy="192.9" r="1.4" fill="#2fa42f"/>
<circle cx="276.3" cy="190.4" r="1.4" fill="#2fa42f"/>
<circle cx="279.5" cy="190.3" r="1.4" fill="#2fa42f"/>
<circle cx="281.2" cy="192.3" r="1.4" fill="#2fa42f"/>
<circle cx="258.3" cy="194.3" r="1.4" fill="#2fa42f"/>
<circle cx="262.7" cy="194.9" r="1.4" fill="#2fa42f"/>
<circle cx="265.3" cy="195.4" r="1.4" fill="#2fa42f"/>
<circle cx="248.7" cy="194.9" r="1.4" fill="#2fa42f"/>
<circle cx="247.4" cy="196.9" r="1.4" fill="#2fa42f"/>
<circle cx="246.3" cy="198.3" r="1.4" fill="#2fa42f"/>
<circle cx="261.0" cy="196.9" r="1.4" fill="#2fa42f"/>
<circle cx="259.1" cy="198.8" r="1.4" fill="#2fa42f"/>
<circle cx="258.3" cy="199.9" r="1.4" fill="#2fa42f"/>
<circle cx="261.0" cy="199.9" r="1.4" fill="#2fa42f"/>
<circle cx="265.0" cy="199.4" r="1.4" fill="#2fa42f"/>
<circle cx="258.3" cy="205.9" r="1.4" fill="#2fa42f"/>
<circle cx="265.7" cy="210.3" r="1.4" fill="#2fa42f"/>
<circle cx="247.7" cy="214.3" r="1.4" fill="#2fa42f"/>
<circle cx="225.8" cy="222.7" r="1.4" fill="#2fa42f"/>
<circle cx="287.9" cy="157.1" r="1.4" fill="#2fa42f"/>
<circle cx="289.5" cy="160.8" r="1.4" fill="#2fa42f"/>
<circle cx="288.7" cy="162.1" r="1.4" fill="#2fa42f"/>
<circle cx="286.2" cy="163.1" r="1.4" fill="#2fa42f"/>
<circle cx="289.0" cy="173.5" r="1.4" fill="#2fa42f"/>
<circle cx="283.1" cy="174.1" r="1.4" fill="#2fa42f"/>
<circle cx="282.2" cy="176.0" r="1.4" fill="#2fa42f"/>
<circle cx="281.4" cy="178.2" r="1.4" fill="#2fa42f"/>
<circle cx="270.1" cy="181.5" r="1.4" fill="#2fa42f"/>
<circle cx="272.5" cy="181.8" r="1.4" fill="#2fa42f"/>
<circle cx="275.5" cy="180.6" r="1.4" fill="#2fa42f"/>
<circle cx="275.8" cy="183.4" r="1.4" fill="#2fa42f"/>
<circle cx="274.1" cy="185.1" r="1.4" fill="#2fa42f"/>
<circle cx="275.5" cy="186.7" r="1.4" fill="#2fa42f"/>
<circle cx="276.6" cy="190.3" r="1.4" fill="#2fa42f"/>
<circle cx="279.0" cy="190.6" r="1.4" fill="#2fa42f"/>
<circle cx="280.9" cy="192.5" r="1.4" fill="#2fa42f"/>
<circle cx="287.9" cy="189.3" r="1.4" fill="#2fa42f"/>
<circle cx="270.1" cy="192.9" r="1.4" fill="#2fa42f"/>
<circle cx="275.9" cy="148.9" r="1.4" fill="#2a6fb8"/>
<circle cx="271.0" cy="140.4" r="1.4" fill="#2a6fb8"/>
<circle cx="250.4" cy="164.9" r="1.4" fill="#2a6fb8"/>
<circle cx="295.9" cy="135.7" r="1.4" fill="#2a6fb8"/>
<circle cx="308.2" cy="132.6" r="1.4" fill="#2a6fb8"/>
<circle cx="252.9" cy="161.5" r="1.4" fill="#e8141c"/>
<circle cx="237.8" cy="185.0" r="1.4" fill="#e8141c"/>
<circle cx="280.5" cy="52.7" r="1.4" fill="#e8141c"/>
<circle cx="274.4" cy="183.1" r="1.4" fill="#e8141c"/>
<circle cx="291.5" cy="138.9" r="1.4" fill="#e8141c"/>
<circle cx="265.7" cy="162.1" r="1.4" fill="#e8141c"/>
<circle cx="237.1" cy="168.4" r="1.4" fill="#2a6fb8"/>
<circle cx="286.7" cy="92.4" r="1.4" fill="#e8141c"/>
<circle cx="158.7" cy="197.1" r="1.4" fill="#2a6fb8"/>
<circle cx="297.0" cy="122.4" r="1.4" fill="#2a6fb8"/>
<circle cx="265.9" cy="144.4" r="1.4" fill="#e8141c"/>
<circle cx="288.2" cy="123.6" r="1.4" fill="#e8141c"/>
<circle cx="291.3" cy="134.9" r="1.4" fill="#2a6fb8"/>
<circle cx="207.0" cy="173.8" r="1.4" fill="#2a6fb8"/>
<circle cx="314.3" cy="105.8" r="1.4" fill="#2a6fb8"/>
<circle cx="297.4" cy="119.7" r="1.4" fill="#2a6fb8"/>
<circle cx="290.6" cy="132.4" r="1.4" fill="#e8141c"/>
<circle cx="272.5" cy="151.4" r="1.4" fill="#e8141c"/>
<circle cx="274.7" cy="142.0" r="1.4" fill="#e8141c"/>
<circle cx="278.2" cy="150.9" r="1.4" fill="#2a6fb8"/>
<circle cx="280.6" cy="123.6" r="1.4" fill="#e8141c"/>
<circle cx="270.6" cy="147.3" r="1.4" fill="#2a6fb8"/>
<circle cx="309.0" cy="120.6" r="1.4" fill="#2a6fb8"/>
<circle cx="288.7" cy="131.3" r="1.4" fill="#2a6fb8"/>
<circle cx="305.0" cy="105.8" r="1.4" fill="#2a6fb8"/>
<circle cx="269.4" cy="149.9" r="1.4" fill="#e8141c"/>
<circle cx="273.0" cy="138.5" r="1.4" fill="#e8141c"/>
<circle cx="295.0" cy="135.2" r="1.4" fill="#e8141c"/>
<circle cx="292.9" cy="113.6" r="1.4" fill="#e8141c"/>
<circle cx="289.4" cy="130.3" r="1.4" fill="#e8141c"/>
<circle cx="272.8" cy="137.8" r="1.4" fill="#2a6fb8"/>
<circle cx="196.0" cy="182.1" r="1.4" fill="#2a6fb8"/>
<circle cx="297.3" cy="26.1" r="1.4" fill="#e8141c"/>
<circle cx="295.7" cy="135.8" r="1.4" fill="#2a6fb8"/>
<circle cx="298.4" cy="129.8" r="1.4" fill="#2a6fb8"/>
<circle cx="258.0" cy="148.6" r="1.4" fill="#e8141c"/>
<circle cx="259.0" cy="176.7" r="1.4" fill="#e8141c"/>
<circle cx="275.5" cy="177.3" r="1.4" fill="#e8141c"/>
<circle cx="285.3" cy="149.9" r="1.4" fill="#e8141c"/>
<circle cx="162.2" cy="192.5" r="1.4" fill="#2a6fb8"/>
<circle cx="290.6" cy="158.9" r="1.4" fill="#e8141c"/>
<circle cx="279.5" cy="125.6" r="1.4" fill="#e8141c"/>
<circle cx="310.4" cy="124.1" r="1.4" fill="#2a6fb8"/>
<circle cx="294.9" cy="132.3" r="1.4" fill="#2a6fb8"/>
<circle cx="292.9" cy="117.0" r="1.4" fill="#e8141c"/>
<circle cx="262.6" cy="172.2" r="1.4" fill="#e8141c"/>
<circle cx="263.9" cy="141.4" r="1.4" fill="#2a6fb8"/>
<circle cx="306.4" cy="122.1" r="1.4" fill="#2a6fb8"/>
<circle cx="279.6" cy="171.8" r="1.4" fill="#e8141c"/>
<circle cx="317.6" cy="99.6" r="1.4" fill="#2a6fb8"/>
<circle cx="267.8" cy="187.0" r="1.4" fill="#e8141c"/>
<circle cx="261.8" cy="189.0" r="1.4" fill="#e8141c"/>
<circle cx="293.2" cy="129.5" r="1.4" fill="#e8141c"/>
<circle cx="292.9" cy="116.8" r="1.4" fill="#e8141c"/>
<circle cx="309.3" cy="117.2" r="1.4" fill="#2a6fb8"/>
<circle cx="276.5" cy="140.8" r="1.4" fill="#2a6fb8"/>
<circle cx="288.0" cy="176.1" r="1.4" fill="#e8141c"/>
<circle cx="270.0" cy="148.9" r="1.4" fill="#2a6fb8"/>
<circle cx="291.7" cy="175.3" r="1.4" fill="#e8141c"/>
<circle cx="267.7" cy="147.0" r="1.4" fill="#e8141c"/>
<circle cx="273.9" cy="184.6" r="1.4" fill="#e8141c"/>
<circle cx="286.5" cy="147.5" r="1.4" fill="#2a6fb8"/>
<circle cx="315.0" cy="117.2" r="1.4" fill="#2a6fb8"/>
<circle cx="295.0" cy="117.3" r="1.4" fill="#e8141c"/>
<circle cx="288.2" cy="113.6" r="1.4" fill="#e8141c"/>
<circle cx="185.6" cy="193.1" r="1.4" fill="#2a6fb8"/>
<circle cx="303.2" cy="123.6" r="1.4" fill="#2a6fb8"/>
<circle cx="296.6" cy="130.8" r="1.4" fill="#2a6fb8"/>
<circle cx="297.0" cy="139.3" r="1.4" fill="#e8141c"/>
<circle cx="296.7" cy="137.7" r="1.4" fill="#2a6fb8"/>
<circle cx="234.1" cy="164.5" r="1.4" fill="#2a6fb8"/>
<circle cx="289.4" cy="117.0" r="1.4" fill="#e8141c"/>
<circle cx="129.3" cy="203.6" r="1.4" fill="#2a6fb8"/>
<circle cx="133.9" cy="212.1" r="1.4" fill="#2a6fb8"/>
<circle cx="300.1" cy="138.1" r="1.4" fill="#e8141c"/>
<circle cx="297.6" cy="136.9" r="1.4" fill="#2a6fb8"/>
<circle cx="301.3" cy="109.5" r="1.4" fill="#2a6fb8"/>
<circle cx="291.4" cy="127.6" r="1.4" fill="#e8141c"/>
<circle cx="281.7" cy="145.5" r="1.4" fill="#e8141c"/>
<circle cx="271.5" cy="178.1" r="1.4" fill="#2a6fb8"/>
<circle cx="250.8" cy="160.9" r="1.4" fill="#e8141c"/>
<circle cx="265.1" cy="190.2" r="1.4" fill="#e8141c"/>
<circle cx="273.0" cy="149.5" r="1.4" fill="#e8141c"/>
<circle cx="299.9" cy="123.4" r="1.4" fill="#2a6fb8"/>
<circle cx="295.3" cy="105.5" r="1.4" fill="#e8141c"/>
<circle cx="248.6" cy="147.8" r="1.4" fill="#2a6fb8"/>
<circle cx="295.4" cy="105.7" r="1.4" fill="#e8141c"/>
<circle cx="254.4" cy="152.7" r="1.4" fill="#e8141c"/>
<circle cx="254.6" cy="160.5" r="1.4" fill="#2a6fb8"/>
<circle cx="298.5" cy="125.6" r="1.4" fill="#2a6fb8"/>
<circle cx="286.0" cy="144.4" r="1.4" fill="#2a6fb8"/>
<circle cx="299.8" cy="123.4" r="1.4" fill="#2a6fb8"/>
<circle cx="300.1" cy="129.9" r="1.4" fill="#e8141c"/>
<circle cx="252.5" cy="188.5" r="1.4" fill="#e8141c"/>
<circle cx="273.8" cy="135.0" r="1.4" fill="#e8141c"/>
<circle cx="273.9" cy="167.9" r="1.4" fill="#e8141c"/>
<circle cx="282.5" cy="131.8" r="1.4" fill="#2a6fb8"/>
<circle cx="299.4" cy="128.9" r="1.4" fill="#e8141c"/>
<circle cx="260.4" cy="192.6" r="1.4" fill="#e8141c"/>
<circle cx="279.6" cy="178.8" r="1.4" fill="#e8141c"/>
<circle cx="308.8" cy="118.3" r="1.4" fill="#2a6fb8"/>
<circle cx="150.0" cy="202.9" r="1.4" fill="#2a6fb8"/>
<circle cx="260.6" cy="170.8" r="1.4" fill="#e8141c"/>
<circle cx="283.6" cy="154.0" r="1.4" fill="#2a6fb8"/>
<circle cx="292.9" cy="125.8" r="1.4" fill="#e8141c"/>
<circle cx="288.2" cy="144.8" r="1.4" fill="#2a6fb8"/>
<circle cx="252.4" cy="173.2" r="1.4" fill="#e8141c"/>
<circle cx="289.9" cy="113.6" r="1.4" fill="#e8141c"/>
<circle cx="292.3" cy="135.4" r="1.4" fill="#e8141c"/>
<circle cx="303.3" cy="123.6" r="1.4" fill="#2a6fb8"/>
<circle cx="281.6" cy="138.4" r="1.4" fill="#2a6fb8"/>
<circle cx="296.0" cy="118.9" r="1.4" fill="#2a6fb8"/>
<circle cx="247.4" cy="161.8" r="1.4" fill="#2a6fb8"/>
<circle cx="266.2" cy="149.2" r="1.4" fill="#e8141c"/>
<circle cx="269.4" cy="134.5" r="1.4" fill="#e8141c"/>
<circle cx="280.7" cy="134.3" r="1.4" fill="#2a6fb8"/>
<circle cx="290.6" cy="144.4" r="1.4" fill="#e8141c"/>
<circle cx="292.3" cy="141.5" r="1.4" fill="#e8141c"/>
<circle cx="293.9" cy="128.3" r="1.4" fill="#2a6fb8"/>
<circle cx="291.4" cy="137.5" r="1.4" fill="#e8141c"/>
<circle cx="259.0" cy="142.2" r="1.4" fill="#e8141c"/>
<circle cx="251.8" cy="215.3" r="1.4" fill="#e8141c"/>
<circle cx="284.4" cy="155.5" r="1.4" fill="#e8141c"/>
<circle cx="311.4" cy="118.0" r="1.4" fill="#2a6fb8"/>
<circle cx="261.1" cy="138.1" r="1.4" fill="#e8141c"/>
<circle cx="277.5" cy="178.4" r="1.4" fill="#e8141c"/>
<circle cx="295.7" cy="119.3" r="1.4" fill="#2a6fb8"/>
<circle cx="296.8" cy="117.1" r="1.4" fill="#e8141c"/>
<circle cx="270.3" cy="147.5" r="1.4" fill="#e8141c"/>
<circle cx="275.6" cy="152.0" r="1.4" fill="#e8141c"/>
<circle cx="266.7" cy="171.4" r="1.4" fill="#e8141c"/>
<circle cx="246.7" cy="174.1" r="1.4" fill="#e8141c"/>
<circle cx="163.3" cy="191.7" r="1.4" fill="#2a6fb8"/>
<circle cx="292.3" cy="125.6" r="1.4" fill="#e8141c"/>
<circle cx="266.3" cy="149.9" r="1.4" fill="#e8141c"/>
<circle cx="291.4" cy="127.4" r="1.4" fill="#2a6fb8"/>
<circle cx="298.1" cy="125.7" r="1.4" fill="#2a6fb8"/>
<circle cx="285.7" cy="142.4" r="1.4" fill="#e8141c"/>
<circle cx="288.8" cy="142.0" r="1.4" fill="#e8141c"/>
<circle cx="300.1" cy="115.4" r="1.4" fill="#2a6fb8"/>
<circle cx="277.1" cy="125.6" r="1.4" fill="#e8141c"/>
<circle cx="303.1" cy="106.9" r="1.4" fill="#e8141c"/>
<circle cx="274.7" cy="153.0" r="1.4" fill="#2a6fb8"/>
<circle cx="291.1" cy="159.7" r="1.4" fill="#e8141c"/>
<circle cx="264.2" cy="181.4" r="1.4" fill="#e8141c"/>
<circle cx="287.6" cy="120.6" r="1.4" fill="#2a6fb8"/>
<circle cx="279.4" cy="150.8" r="1.4" fill="#2a6fb8"/>
<circle cx="156.9" cy="195.0" r="1.4" fill="#2a6fb8"/>
<circle cx="286.5" cy="116.0" r="1.4" fill="#e8141c"/>
<circle cx="243.4" cy="170.8" r="1.4" fill="#e8141c"/>
<circle cx="276.8" cy="141.3" r="1.4" fill="#2a6fb8"/>
<circle cx="263.2" cy="141.7" r="1.4" fill="#2a6fb8"/>
<circle cx="265.2" cy="190.7" r="1.4" fill="#e8141c"/>
<circle cx="265.9" cy="141.5" r="1.4" fill="#e8141c"/>
<circle cx="278.3" cy="127.2" r="1.4" fill="#2a6fb8"/>
<circle cx="296.7" cy="122.6" r="1.4" fill="#2a6fb8"/>
<circle cx="284.1" cy="99.2" r="1.4" fill="#e8141c"/>
<circle cx="271.5" cy="138.9" r="1.4" fill="#2a6fb8"/>
<circle cx="268.6" cy="140.9" r="1.4" fill="#e8141c"/>
<circle cx="268.3" cy="184.3" r="1.4" fill="#e8141c"/>
<circle cx="278.2" cy="122.9" r="1.4" fill="#e8141c"/>
<circle cx="263.1" cy="153.3" r="1.4" fill="#e8141c"/>
<circle cx="294.7" cy="128.3" r="1.4" fill="#e8141c"/>
<circle cx="252.4" cy="159.2" r="1.4" fill="#e8141c"/>
<circle cx="292.9" cy="144.2" r="1.4" fill="#e8141c"/>
<circle cx="271.8" cy="139.6" r="1.4" fill="#2a6fb8"/>
<circle cx="277.4" cy="126.9" r="1.4" fill="#e8141c"/>
<circle cx="268.8" cy="120.0" r="1.4" fill="#e8141c"/>
<circle cx="282.7" cy="142.4" r="1.4" fill="#e8141c"/>
<circle cx="294.9" cy="140.6" r="1.4" fill="#2a6fb8"/>
<circle cx="310.0" cy="118.1" r="1.4" fill="#2a6fb8"/>
<circle cx="283.0" cy="118.2" r="1.4" fill="#e8141c"/>
<circle cx="286.5" cy="131.0" r="1.4" fill="#e8141c"/>
<circle cx="237.5" cy="184.9" r="1.4" fill="#e8141c"/>
<circle cx="266.2" cy="182.5" r="1.4" fill="#e8141c"/>
<circle cx="284.1" cy="121.6" r="1.4" fill="#e8141c"/>
<circle cx="286.9" cy="139.9" r="1.4" fill="#2a6fb8"/>
<circle cx="278.5" cy="174.3" r="1.4" fill="#e8141c"/>
<circle cx="292.2" cy="139.9" r="1.4" fill="#2a6fb8"/>
<circle cx="283.6" cy="146.2" r="1.4" fill="#2a6fb8"/>
<circle cx="284.7" cy="128.3" r="1.4" fill="#e8141c"/>
<circle cx="295.5" cy="145.1" r="1.4" fill="#e8141c"/>
<circle cx="248.3" cy="179.3" r="1.4" fill="#e8141c"/>
<circle cx="297.0" cy="116.0" r="1.4" fill="#2a6fb8"/>
<circle cx="286.9" cy="132.3" r="1.4" fill="#2a6fb8"/>
<circle cx="280.6" cy="131.0" r="1.4" fill="#e8141c"/>
<circle cx="183.8" cy="182.9" r="1.4" fill="#2a6fb8"/>
<circle cx="298.9" cy="169.4" r="1.4" fill="#e8141c"/>
<circle cx="286.7" cy="146.4" r="1.4" fill="#e8141c"/>
<circle cx="284.4" cy="138.9" r="1.4" fill="#e8141c"/>
<circle cx="248.3" cy="159.2" r="1.4" fill="#e8141c"/>
<circle cx="299.1" cy="128.2" r="1.4" fill="#e8141c"/>
<circle cx="297.4" cy="125.8" r="1.4" fill="#2a6fb8"/>
<circle cx="271.8" cy="131.0" r="1.4" fill="#e8141c"/>
<circle cx="279.9" cy="142.8" r="1.4" fill="#2a6fb8"/>
<circle cx="280.7" cy="128.8" r="1.4" fill="#2a6fb8"/>
<circle cx="274.4" cy="158.9" r="1.4" fill="#e8141c"/>
<circle cx="285.8" cy="124.2" r="1.4" fill="#e8141c"/>
<circle cx="268.3" cy="184.9" r="1.4" fill="#e8141c"/>
<circle cx="288.8" cy="144.2" r="1.4" fill="#2a6fb8"/>
<circle cx="263.1" cy="176.5" r="1.4" fill="#e8141c"/>
<circle cx="264.8" cy="141.5" r="1.4" fill="#2a6fb8"/>
<circle cx="260.1" cy="148.0" r="1.4" fill="#e8141c"/>
<circle cx="301.6" cy="118.9" r="1.4" fill="#2a6fb8"/>
<circle cx="298.8" cy="104.9" r="1.4" fill="#e8141c"/>
<circle cx="267.2" cy="171.4" r="1.4" fill="#e8141c"/>
<circle cx="305.8" cy="123.0" r="1.4" fill="#2a6fb8"/>
<circle cx="293.7" cy="124.5" r="1.4" fill="#2a6fb8"/>
<circle cx="272.1" cy="144.0" r="1.4" fill="#e8141c"/>
<circle cx="287.8" cy="142.4" r="1.4" fill="#2a6fb8"/>
<circle cx="267.7" cy="132.4" r="1.4" fill="#e8141c"/>
<circle cx="275.6" cy="127.9" r="1.4" fill="#e8141c"/>
<circle cx="275.4" cy="127.9" r="1.4" fill="#e8141c"/>
<circle cx="279.1" cy="165.2" r="1.4" fill="#e8141c"/>
<circle cx="269.4" cy="120.2" r="1.4" fill="#e8141c"/>
<circle cx="301.1" cy="129.5" r="1.4" fill="#2a6fb8"/>
<circle cx="274.4" cy="180.8" r="1.4" fill="#e8141c"/>
<circle cx="291.8" cy="120.9" r="1.4" fill="#e8141c"/>
<circle cx="281.7" cy="144.8" r="1.4" fill="#2a6fb8"/>
<circle cx="290.9" cy="122.9" r="1.4" fill="#e8141c"/>
<circle cx="264.2" cy="172.0" r="1.4" fill="#e8141c"/>
<circle cx="280.0" cy="131.0" r="1.4" fill="#e8141c"/>
<circle cx="281.7" cy="128.4" r="1.4" fill="#e8141c"/>
<circle cx="293.9" cy="125.0" r="1.4" fill="#2a6fb8"/>
<circle cx="303.8" cy="130.2" r="1.4" fill="#2a6fb8"/>
<circle cx="260.6" cy="157.4" r="1.4" fill="#e8141c"/>
<circle cx="256.0" cy="170.8" r="1.4" fill="#e8141c"/>
<circle cx="308.3" cy="122.4" r="1.4" fill="#2a6fb8"/>
<circle cx="291.9" cy="132.3" r="1.4" fill="#e8141c"/>
<circle cx="168.1" cy="189.0" r="1.4" fill="#2a6fb8"/>
<circle cx="313.5" cy="118.0" r="1.4" fill="#2a6fb8"/>
<circle cx="264.7" cy="157.4" r="1.4" fill="#e8141c"/>
<circle cx="293.9" cy="119.4" r="1.4" fill="#e8141c"/>
<circle cx="151.4" cy="189.6" r="1.4" fill="#2a6fb8"/>
<circle cx="299.8" cy="106.0" r="1.4" fill="#e8141c"/>
<circle cx="277.2" cy="134.9" r="1.4" fill="#2a6fb8"/>
<circle cx="271.7" cy="155.5" r="1.4" fill="#e8141c"/>
<circle cx="290.5" cy="138.9" r="1.4" fill="#2a6fb8"/>
<circle cx="299.4" cy="117.0" r="1.4" fill="#2a6fb8"/>
<circle cx="290.9" cy="135.2" r="1.4" fill="#e8141c"/>
<circle cx="270.5" cy="167.1" r="1.4" fill="#e8141c"/>
<circle cx="260.8" cy="178.8" r="1.4" fill="#2a6fb8"/>
<circle cx="293.0" cy="133.3" r="1.4" fill="#2a6fb8"/>
<circle cx="256.6" cy="184.5" r="1.4" fill="#e8141c"/>
<circle cx="303.0" cy="118.0" r="1.4" fill="#2a6fb8"/>
<circle cx="285.3" cy="127.5" r="1.4" fill="#e8141c"/>
<circle cx="292.3" cy="144.0" r="1.4" fill="#e8141c"/>
<circle cx="265.7" cy="162.1" r="1.4" fill="#e8141c"/>
<circle cx="270.3" cy="183.9" r="1.4" fill="#e8141c"/>
<circle cx="275.9" cy="203.3" r="1.4" fill="#e8141c"/>
<circle cx="282.5" cy="128.3" r="1.4" fill="#2a6fb8"/>
<circle cx="256.5" cy="184.6" r="1.4" fill="#e8141c"/>
<circle cx="290.4" cy="129.9" r="1.4" fill="#e8141c"/>
<circle cx="268.6" cy="144.4" r="1.4" fill="#e8141c"/>
<circle cx="298.6" cy="118.7" r="1.4" fill="#2a6fb8"/>
<circle cx="295.7" cy="127.2" r="1.4" fill="#2a6fb8"/>
<circle cx="307.7" cy="119.0" r="1.4" fill="#2a6fb8"/>
<circle cx="298.6" cy="136.9" r="1.4" fill="#e8141c"/>
<circle cx="268.6" cy="145.2" r="1.4" fill="#2a6fb8"/>
<circle cx="233.7" cy="170.6" r="1.4" fill="#2a6fb8"/>
<circle cx="295.4" cy="140.7" r="1.4" fill="#2a6fb8"/>
<circle cx="281.6" cy="144.4" r="1.4" fill="#2a6fb8"/>
<circle cx="290.6" cy="127.9" r="1.4" fill="#e8141c"/>
<circle cx="151.6" cy="201.1" r="1.4" fill="#2a6fb8"/>
<circle cx="275.0" cy="170.3" r="1.4" fill="#e8141c"/>
<circle cx="278.8" cy="127.5" r="1.4" fill="#2a6fb8"/>
<circle cx="271.3" cy="147.9" r="1.4" fill="#e8141c"/>
<circle cx="299.2" cy="115.3" r="1.4" fill="#2a6fb8"/>
<circle cx="283.4" cy="136.9" r="1.4" fill="#2a6fb8"/>
<circle cx="283.6" cy="124.2" r="1.4" fill="#e8141c"/>
<circle cx="315.5" cy="91.6" r="1.4" fill="#2a6fb8"/>
<circle cx="276.5" cy="149.3" r="1.4" fill="#2a6fb8"/>
<circle cx="293.0" cy="143.3" r="1.4" fill="#2a6fb8"/>
<circle cx="273.8" cy="147.9" r="1.4" fill="#e8141c"/>
<circle cx="288.8" cy="135.9" r="1.4" fill="#e8141c"/>
<circle cx="304.1" cy="131.0" r="1.4" fill="#e8141c"/>
<circle cx="298.4" cy="117.7" r="1.4" fill="#2a6fb8"/>
<circle cx="302.3" cy="106.9" r="1.4" fill="#e8141c"/>
<circle cx="295.9" cy="110.6" r="1.4" fill="#e8141c"/>
<circle cx="280.9" cy="138.5" r="1.4" fill="#e8141c"/>
<circle cx="276.5" cy="138.0" r="1.4" fill="#e8141c"/>
<circle cx="265.2" cy="172.6" r="1.4" fill="#e8141c"/>
<circle cx="280.5" cy="151.4" r="1.4" fill="#e8141c"/>
<circle cx="275.5" cy="129.0" r="1.4" fill="#2a6fb8"/>
<circle cx="296.0" cy="127.4" r="1.4" fill="#e8141c"/>
<circle cx="285.1" cy="130.8" r="1.4" fill="#2a6fb8"/>
<circle cx="268.3" cy="144.8" r="1.4" fill="#2a6fb8"/>
<circle cx="265.2" cy="180.8" r="1.4" fill="#e8141c"/>
<circle cx="312.5" cy="117.6" r="1.4" fill="#2a6fb8"/>
<circle cx="299.6" cy="134.6" r="1.4" fill="#e8141c"/>
<circle cx="263.1" cy="148.6" r="1.4" fill="#e8141c"/>
<circle cx="292.2" cy="129.4" r="1.4" fill="#2a6fb8"/>
<circle cx="162.2" cy="194.4" r="1.4" fill="#2a6fb8"/>
<circle cx="267.5" cy="158.7" r="1.4" fill="#2a6fb8"/>
<circle cx="310.4" cy="122.4" r="1.4" fill="#2a6fb8"/>
<circle cx="283.4" cy="139.9" r="1.4" fill="#2a6fb8"/>
<circle cx="298.5" cy="104.6" r="1.4" fill="#e8141c"/>
<circle cx="172.8" cy="193.8" r="1.4" fill="#2a6fb8"/>
<circle cx="312.9" cy="109.3" r="1.4" fill="#2a6fb8"/>
<circle cx="276.5" cy="131.5" r="1.4" fill="#e8141c"/>
<circle cx="272.1" cy="131.0" r="1.4" fill="#e8141c"/>
<circle cx="285.1" cy="140.8" r="1.4" fill="#2a6fb8"/>
<circle cx="291.5" cy="114.6" r="1.4" fill="#2a6fb8"/>
<circle cx="292.7" cy="147.9" r="1.4" fill="#e8141c"/>
<circle cx="308.8" cy="107.0" r="1.4" fill="#2a6fb8"/>
<circle cx="304.2" cy="66.8" r="1.4" fill="#e8141c"/>
<circle cx="298.5" cy="136.2" r="1.4" fill="#2a6fb8"/>
<circle cx="295.9" cy="117.5" r="1.4" fill="#e8141c"/>
<circle cx="281.7" cy="135.0" r="1.4" fill="#e8141c"/>
<circle cx="285.3" cy="135.4" r="1.4" fill="#e8141c"/>
<circle cx="288.8" cy="120.9" r="1.4" fill="#e8141c"/>
<circle cx="284.3" cy="133.8" r="1.4" fill="#2a6fb8"/>
<circle cx="294.5" cy="127.7" r="1.4" fill="#2a6fb8"/>
<circle cx="296.0" cy="141.0" r="1.4" fill="#e8141c"/>
<circle cx="280.6" cy="112.5" r="1.4" fill="#e8141c"/>
<circle cx="258.0" cy="156.8" r="1.4" fill="#e8141c"/>
<circle cx="286.9" cy="136.4" r="1.4" fill="#2a6fb8"/>
<circle cx="257.5" cy="159.7" r="1.4" fill="#e8141c"/>
<circle cx="274.7" cy="158.5" r="1.4" fill="#e8141c"/>
<circle cx="300.5" cy="106.7" r="1.4" fill="#e8141c"/>
<circle cx="277.3" cy="185.5" r="1.4" fill="#e8141c"/>
<circle cx="307.3" cy="118.9" r="1.4" fill="#2a6fb8"/>
<circle cx="279.9" cy="132.3" r="1.4" fill="#2a6fb8"/>
<circle cx="255.4" cy="156.2" r="1.4" fill="#e8141c"/>
<circle cx="317.1" cy="107.2" r="1.4" fill="#2a6fb8"/>
<circle cx="257.0" cy="177.6" r="1.4" fill="#e8141c"/>
<circle cx="296.3" cy="108.0" r="1.4" fill="#e8141c"/>
<circle cx="275.5" cy="129.4" r="1.4" fill="#2a6fb8"/>
<circle cx="287.1" cy="131.9" r="1.4" fill="#e8141c"/>
<circle cx="288.7" cy="137.3" r="1.4" fill="#2a6fb8"/>
<circle cx="295.9" cy="133.1" r="1.4" fill="#2a6fb8"/>
<circle cx="277.6" cy="128.3" r="1.4" fill="#e8141c"/>
<circle cx="222.8" cy="166.0" r="1.4" fill="#2a6fb8"/>
<circle cx="298.5" cy="130.2" r="1.4" fill="#2a6fb8"/>
<circle cx="270.2" cy="105.5" r="1.4" fill="#e8141c"/>
<circle cx="265.1" cy="159.4" r="1.4" fill="#2a6fb8"/>
<circle cx="291.2" cy="124.2" r="1.4" fill="#e8141c"/>
<circle cx="284.5" cy="182.5" r="1.4" fill="#e8141c"/>
<circle cx="271.3" cy="141.5" r="1.4" fill="#e8141c"/>
<circle cx="295.0" cy="140.6" r="1.4" fill="#2a6fb8"/>
<circle cx="288.8" cy="186.6" r="1.4" fill="#e8141c"/>
<circle cx="270.1" cy="149.3" r="1.4" fill="#2a6fb8"/>
<circle cx="275.6" cy="145.0" r="1.4" fill="#e8141c"/>
<circle cx="275.9" cy="131.0" r="1.4" fill="#e8141c"/>
<circle cx="309.9" cy="124.8" r="1.4" fill="#2a6fb8"/>
<circle cx="295.3" cy="116.7" r="1.4" fill="#2a6fb8"/>
<circle cx="242.8" cy="191.9" r="1.4" fill="#e8141c"/>
<circle cx="287.7" cy="126.3" r="1.4" fill="#e8141c"/>
<circle cx="260.6" cy="146.3" r="1.4" fill="#e8141c"/>
<circle cx="267.2" cy="187.2" r="1.4" fill="#e8141c"/>
<circle cx="287.9" cy="128.9" r="1.4" fill="#e8141c"/>
<circle cx="305.6" cy="132.9" r="1.4" fill="#2a6fb8"/>
<circle cx="288.8" cy="158.0" r="1.4" fill="#e8141c"/>
<circle cx="311.7" cy="123.1" r="1.4" fill="#2a6fb8"/>
<circle cx="246.2" cy="179.3" r="1.4" fill="#e8141c"/>
<circle cx="268.3" cy="142.2" r="1.4" fill="#e8141c"/>
<circle cx="267.2" cy="182.5" r="1.4" fill="#e8141c"/>
<circle cx="283.4" cy="153.9" r="1.4" fill="#2a6fb8"/>
<circle cx="265.1" cy="147.5" r="1.4" fill="#e8141c"/>
<circle cx="258.4" cy="167.1" r="1.4" fill="#2a6fb8"/>
<circle cx="287.7" cy="118.9" r="1.4" fill="#e8141c"/>
<circle cx="301.5" cy="106.7" r="1.4" fill="#e8141c"/>
<circle cx="156.9" cy="192.6" r="1.4" fill="#2a6fb8"/>
<circle cx="266.7" cy="156.2" r="1.4" fill="#e8141c"/>
<circle cx="285.1" cy="137.8" r="1.4" fill="#2a6fb8"/>
<circle cx="129.0" cy="206.6" r="1.4" fill="#2a6fb8"/>
<circle cx="295.0" cy="125.8" r="1.4" fill="#e8141c"/>
<circle cx="280.6" cy="175.5" r="1.4" fill="#e8141c"/>
<circle cx="134.6" cy="205.4" r="1.4" fill="#2a6fb8"/>
<circle cx="283.6" cy="131.9" r="1.4" fill="#e8141c"/>
<circle cx="275.0" cy="152.9" r="1.4" fill="#2a6fb8"/>
<circle cx="294.7" cy="124.2" r="1.4" fill="#e8141c"/>
<circle cx="258.0" cy="152.1" r="1.4" fill="#e8141c"/>
<circle cx="306.9" cy="125.6" r="1.4" fill="#2a6fb8"/>
<circle cx="295.9" cy="111.2" r="1.4" fill="#e8141c"/>
<circle cx="304.7" cy="130.9" r="1.4" fill="#e8141c"/>
<circle cx="252.9" cy="175.5" r="1.4" fill="#e8141c"/>
<circle cx="266.2" cy="144.0" r="1.4" fill="#e8141c"/>
<circle cx="281.4" cy="144.4" r="1.4" fill="#2a6fb8"/>
<circle cx="309.3" cy="115.2" r="1.4" fill="#2a6fb8"/>
<circle cx="265.9" cy="158.9" r="1.4" fill="#e8141c"/>
<circle cx="275.5" cy="172.0" r="1.4" fill="#e8141c"/>
<circle cx="304.7" cy="119.5" r="1.4" fill="#2a6fb8"/>
<circle cx="280.0" cy="146.9" r="1.4" fill="#2a6fb8"/>
<circle cx="297.1" cy="140.1" r="1.4" fill="#2a6fb8"/>
<circle cx="282.3" cy="126.3" r="1.4" fill="#e8141c"/>
<circle cx="280.4" cy="183.7" r="1.4" fill="#e8141c"/>
<circle cx="288.8" cy="128.3" r="1.4" fill="#e8141c"/>
<circle cx="271.3" cy="140.8" r="1.4" fill="#2a6fb8"/>
<circle cx="281.7" cy="120.9" r="1.4" fill="#e8141c"/>
<circle cx="297.0" cy="134.6" r="1.4" fill="#e8141c"/>
<circle cx="280.0" cy="149.5" r="1.4" fill="#e8141c"/>
<circle cx="296.7" cy="111.9" r="1.4" fill="#e8141c"/>
<circle cx="297.4" cy="140.8" r="1.4" fill="#2a6fb8"/>
<circle cx="278.2" cy="135.4" r="1.4" fill="#e8141c"/>
<circle cx="268.8" cy="184.3" r="1.4" fill="#e8141c"/>
<circle cx="267.2" cy="132.9" r="1.4" fill="#e8141c"/>
<circle cx="270.1" cy="145.5" r="1.4" fill="#2a6fb8"/>
<circle cx="284.0" cy="151.4" r="1.4" fill="#e8141c"/>
<circle cx="291.9" cy="139.9" r="1.4" fill="#e8141c"/>
<circle cx="299.2" cy="123.6" r="1.4" fill="#2a6fb8"/>
<circle cx="303.8" cy="118.1" r="1.4" fill="#2a6fb8"/>
<circle cx="297.4" cy="136.9" r="1.4" fill="#2a6fb8"/>
<circle cx="287.9" cy="138.5" r="1.4" fill="#e8141c"/>
<circle cx="280.6" cy="173.8" r="1.4" fill="#e8141c"/>
<circle cx="257.0" cy="148.0" r="1.4" fill="#e8141c"/>
<circle cx="296.6" cy="116.2" r="1.4" fill="#2a6fb8"/>
<circle cx="289.5" cy="141.9" r="1.4" fill="#2a6fb8"/>
<circle cx="284.0" cy="149.5" r="1.4" fill="#e8141c"/>
<circle cx="292.4" cy="148.0" r="1.4" fill="#e8141c"/>
<circle cx="293.5" cy="143.5" r="1.4" fill="#2a6fb8"/>
<circle cx="266.2" cy="141.6" r="1.4" fill="#e8141c"/>
<circle cx="278.1" cy="129.8" r="1.4" fill="#2a6fb8"/>
<circle cx="296.0" cy="137.5" r="1.4" fill="#e8141c"/>
<circle cx="290.5" cy="130.3" r="1.4" fill="#2a6fb8"/>
<circle cx="247.5" cy="189.2" r="1.4" fill="#e8141c"/>
<circle cx="271.3" cy="151.9" r="1.4" fill="#2a6fb8"/>
<circle cx="274.5" cy="135.3" r="1.4" fill="#2a6fb8"/>
<circle cx="297.0" cy="145.4" r="1.4" fill="#e8141c"/>
<circle cx="277.7" cy="112.7" r="1.4" fill="#2a6fb8"/>
<circle cx="291.4" cy="114.5" r="1.4" fill="#2a6fb8"/>
<circle cx="280.7" cy="124.8" r="1.4" fill="#2a6fb8"/>
<circle cx="289.0" cy="108.9" r="1.4" fill="#e8141c"/>
<circle cx="267.2" cy="148.0" r="1.4" fill="#e8141c"/>
<circle cx="268.3" cy="145.1" r="1.4" fill="#e8141c"/>
<circle cx="270.8" cy="141.8" r="1.4" fill="#2a6fb8"/>
<circle cx="314.5" cy="161.3" r="1.4" fill="#e8141c"/>
<circle cx="265.5" cy="137.4" r="1.4" fill="#e8141c"/>
<circle cx="269.4" cy="138.0" r="1.4" fill="#e8141c"/>
<circle cx="295.5" cy="116.8" r="1.4" fill="#2a6fb8"/>
<circle cx="283.8" cy="129.8" r="1.4" fill="#2a6fb8"/>
<circle cx="265.2" cy="137.5" r="1.4" fill="#e8141c"/>
<circle cx="264.7" cy="176.7" r="1.4" fill="#e8141c"/>
<circle cx="271.5" cy="138.7" r="1.4" fill="#2a6fb8"/>
<circle cx="279.5" cy="120.0" r="1.4" fill="#e8141c"/>
<circle cx="290.9" cy="142.2" r="1.4" fill="#e8141c"/>
<circle cx="286.8" cy="126.3" r="1.4" fill="#2a6fb8"/>
<circle cx="306.3" cy="116.3" r="1.4" fill="#2a6fb8"/>
<circle cx="278.1" cy="147.1" r="1.4" fill="#2a6fb8"/>
<circle cx="285.3" cy="118.9" r="1.4" fill="#e8141c"/>
<circle cx="293.5" cy="121.9" r="1.4" fill="#e8141c"/>
<circle cx="280.6" cy="125.0" r="1.4" fill="#2a6fb8"/>
<circle cx="255.5" cy="163.4" r="1.4" fill="#2a6fb8"/>
<circle cx="306.3" cy="107.0" r="1.4" fill="#2a6fb8"/>
<circle cx="291.9" cy="120.6" r="1.4" fill="#e8141c"/>
<circle cx="248.8" cy="148.0" r="1.4" fill="#2a6fb8"/>
<circle cx="264.2" cy="147.5" r="1.4" fill="#e8141c"/>
<circle cx="306.4" cy="118.6" r="1.4" fill="#2a6fb8"/>
<circle cx="297.0" cy="122.6" r="1.4" fill="#2a6fb8"/>
<circle cx="302.2" cy="136.4" r="1.4" fill="#e8141c"/>
<circle cx="298.6" cy="169.4" r="1.4" fill="#e8141c"/>
<circle cx="271.3" cy="152.3" r="1.4" fill="#2a6fb8"/>
<circle cx="277.5" cy="123.3" r="1.4" fill="#2a6fb8"/>
<circle cx="278.2" cy="141.5" r="1.4" fill="#e8141c"/>
<circle cx="295.9" cy="107.6" r="1.4" fill="#e8141c"/>
<circle cx="289.5" cy="133.8" r="1.4" fill="#2a6fb8"/>
<circle cx="297.0" cy="140.1" r="1.4" fill="#2a6fb8"/>
<line x1="148.7" y1="447.4" x2="312.9" y2="393.1" stroke="#1f55ee" stroke-width="1.3"/>
<line x1="128.7" y1="663.1" x2="311.8" y2="581.5" stroke="#1f55ee" stroke-width="1.3"/>
<line x1="234.2" y1="857.8" x2="309.3" y2="796.7" stroke="#1f55ee" stroke-width="1.3"/>
<line x1="149.9" y1="221.1" x2="318.5" y2="157.4" stroke="#2fa42f" stroke-width="1.3"/>
<line x1="129.3" y1="214.0" x2="317.4" y2="118.3" stroke="#2a6fb8" stroke-width="1.3"/>
<line x1="237.7" y1="182.3" x2="314.8" y2="110.9" stroke="#e0141c" stroke-width="1.3"/>
</svg></body></html>
